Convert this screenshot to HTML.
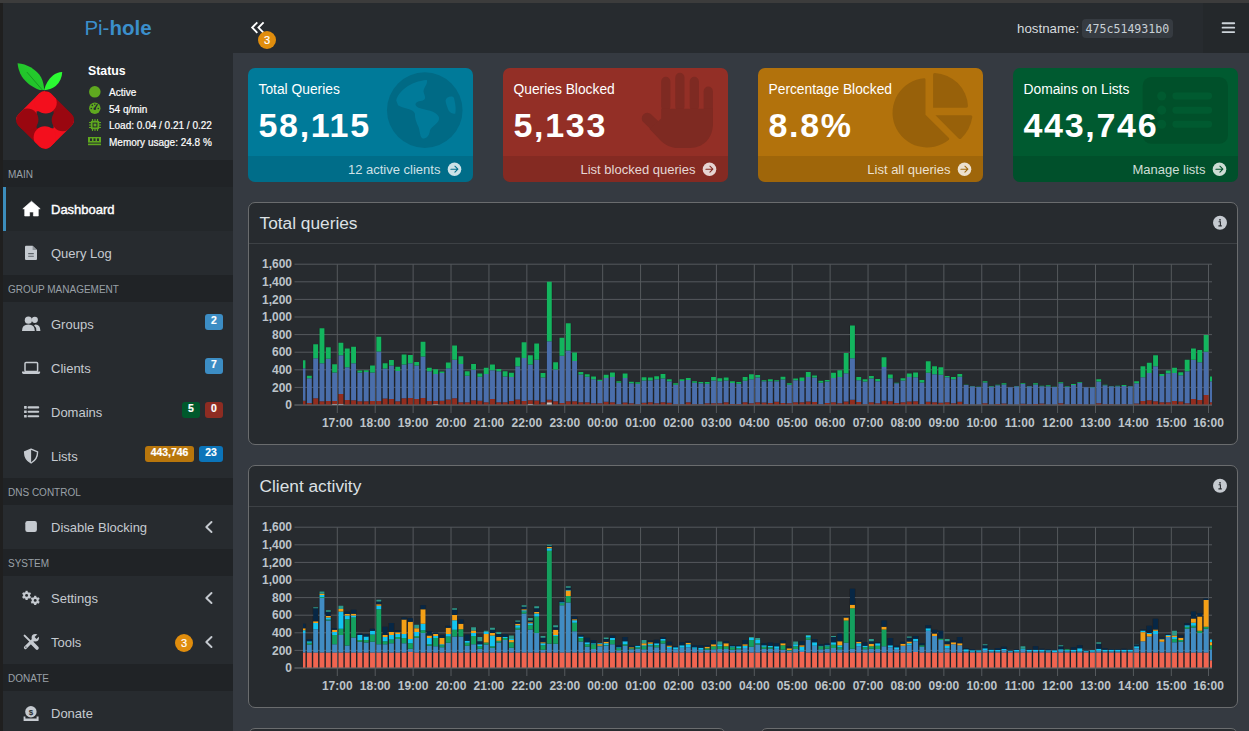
<!DOCTYPE html>
<html><head><meta charset="utf-8"><title>Pi-hole - Dashboard</title>
<style>
*{box-sizing:border-box;margin:0;padding:0}
html,body{width:1249px;height:731px;overflow:hidden}
body{background:#1f1f1f;font-family:"Liberation Sans",Arial,sans-serif;color:#c9ced3;position:relative}
.abs{position:absolute}
svg{overflow:visible}
#topbar{left:0;top:0;width:1249px;height:3px;background:#3c3c3c}
#sidebar{left:3px;top:3px;width:230px;height:728px;background:#272b2f}
#navbar{left:233px;top:3px;width:1016px;height:50px;background:#272b2f}
#navright{left:1203px;top:3px;width:46px;height:50px;background:#24282b}
#content{left:233px;top:53px;width:1016px;height:678px;background:#353a41}
.logo{left:3px;top:3px;width:230px;height:50px;text-align:center;font-size:20.5px;line-height:50px;color:#3b8fcc}
.logo b{font-weight:700}
.st{position:absolute;left:109px;font-size:10px;line-height:12px;color:#fff;white-space:nowrap;-webkit-text-stroke:0.2px #fff}
.mhead{position:absolute;left:3px;width:230px;height:27px;background:#202326;color:#9aa1a8;font-size:10px;line-height:27px;padding-left:5px;padding-top:1px}
.mitem{position:absolute;left:3px;width:230px;height:44px;color:#c5cad0;font-size:13px;line-height:44px;padding-left:48px;padding-top:1px}
.mitem.active{background:#23272a;color:#fff;-webkit-text-stroke:0.4px #fff;border-left:3px solid #3c8dbc;padding-left:45px}
.badge{position:absolute;height:16px;border-radius:3px;color:#fff;font-weight:700;font-size:10.4px;line-height:14.4px;text-align:center;-webkit-text-stroke:0.2px #fff}
.ico{position:absolute;overflow:visible}
.sbox{position:absolute;top:68px;width:225px;height:114px;border-radius:7px;overflow:hidden;color:#fff}
.sbox .t{position:absolute;left:10.5px;top:14.2px;font-size:13.8px;line-height:16px;white-space:nowrap}
.sbox .n{position:absolute;left:10.5px;top:39px;font-size:34px;line-height:36px;font-weight:700;letter-spacing:1.7px;white-space:nowrap}
.sbox .ft{position:absolute;left:0;bottom:0;width:225px;height:26px;background:rgba(0,0,0,0.1)}
.sbox .ft span{position:absolute;right:32.6px;top:6px;font-size:13px;line-height:16px;color:rgba(255,255,255,0.82);white-space:nowrap}
.sbox svg.bi{position:absolute}
.cbox{position:absolute;left:248px;width:990px;height:243px;border:1px solid #6a6c6e;border-radius:7px;background:#272b2f}
.cbox .hd{position:absolute;left:0;top:0;width:988px;height:41px;border-bottom:1px solid #3d4145}
.cbox .ht{position:absolute;left:10.5px;top:10.2px;font-size:17.3px;line-height:20px;color:#dde1e4;white-space:nowrap}
.tick text{font-family:"Liberation Sans",Arial,sans-serif;font-size:12px;font-weight:700;fill:#bcc3c9}
</style></head>
<body>
<div id="topbar" class="abs"></div>
<div id="sidebar" class="abs"></div>
<div id="navbar" class="abs"></div>
<div id="navright" class="abs"></div>
<div id="content" class="abs"></div>

<!-- ===== SIDEBAR ===== -->
<div class="abs logo">Pi-<b>hole</b></div>

<svg class="ico" style="left:10px;top:58px" width="70" height="95" viewBox="0 0 539 731" >
<defs>
<linearGradient id="lf1" x1="0" y1="1" x2="1" y2="0"><stop offset="0" stop-color="#1fbd28"/><stop offset="1" stop-color="#27d02f"/></linearGradient>
<linearGradient id="lf2" x1="0" y1="1" x2="1" y2="0"><stop offset="0" stop-color="#29f431"/><stop offset="1" stop-color="#2cfe33"/></linearGradient>
<clipPath id="dia"><rect x="-176" y="-176" width="352" height="352" rx="62" transform="translate(270,477) rotate(45)"/></clipPath>
</defs>
<path d="M58,41 C130,45 205,90 240,150 C255,180 262,215 264,247 L229,246 C170,226 120,186 90,140 C72,110 62,80 58,41 Z" fill="url(#lf1)"/>
<path d="M130,108 L250,247" stroke="#13801b" stroke-width="5" fill="none"/>
<path d="M402,108 C400,150 385,185 352,216 C325,238 295,246 263,248 C275,200 295,165 330,135 C352,118 375,110 402,108 Z" fill="url(#lf2)"/>
<g clip-path="url(#dia)">
<rect x="0" y="200" width="270.5" height="276" fill="#f30f1d"/>
<rect x="270.5" y="200" width="270" height="276" fill="#9a0710"/>
<rect x="270.5" y="476" width="270" height="260" fill="#f30f1d"/>
<rect x="0" y="476" width="270.5" height="260" fill="#9a0710"/>
<rect x="205" y="410" width="131" height="131" fill="#272b2f"/>
<circle cx="275" cy="342" r="85" fill="#f30f1d"/>
<circle cx="407" cy="478" r="86" fill="#9a0710"/>
<circle cx="268" cy="612" r="86" fill="#f30f1d"/>
<circle cx="133" cy="474" r="86" fill="#9a0710"/>
</g></svg>

<div class="abs" style="left:88px;top:64px;font-size:12.3px;line-height:14px;font-weight:700;color:#fff">Status</div>
<div class="st" style="top:87.4px">Active</div>
<div class="st" style="top:103.8px">54 q/min</div>
<div class="st" style="top:120.2px">Load:&nbsp;0.04&nbsp;/&nbsp;0.21&nbsp;/&nbsp;0.22</div>
<div class="st" style="top:136.6px">Memory usage:&nbsp;24.8&nbsp;%</div>
<svg class="ico" style="left:0;top:0" width="1" height="1"><circle cx="94.8" cy="91.8" r="5.8" fill="#5fa81f"/><circle cx="94.8" cy="108.2" r="5.7" fill="#5fa81f"/><path d="M94.8 108.6 L97.2 104.6" stroke="#272b2f" stroke-width="1.3" stroke-linecap="round"/><circle cx="94.8" cy="108.8" r="1.3" fill="#272b2f"/><circle cx="91.3" cy="108.5" r="0.8" fill="#272b2f"/><circle cx="92.3" cy="105.4" r="0.8" fill="#272b2f"/><circle cx="94.8" cy="104.2" r="0.7" fill="#272b2f"/><circle cx="98.3" cy="108.5" r="0.8" fill="#272b2f"/><rect x="90.8" y="120.8" width="8.4" height="8.4" rx="1" fill="#5fa81f"/><rect x="92.6" y="122.6" width="4.8" height="4.8" fill="#272b2f"/><rect x="93.6" y="123.6" width="2.8" height="2.8" fill="#5fa81f"/><path d="M92.5 119v2M95 119v2M97.5 119v2M92.5 129v2M95 129v2M97.5 129v2M89 122.5h2M89 125h2M89 127.5h2M99 122.5h2M99 125h2M99 127.5h2" stroke="#5fa81f" stroke-width="1.1"/><rect x="88" y="137" width="13" height="5.6" fill="#5fa81f"/><rect x="90" y="138.4" width="2" height="2.6" fill="#272b2f"/><rect x="93.5" y="138.4" width="2" height="2.6" fill="#272b2f"/><rect x="97" y="138.4" width="2" height="2.6" fill="#272b2f"/><rect x="88" y="143.6" width="13" height="1.6" fill="#5fa81f"/></svg>

<div class="mhead" style="top:160px">MAIN</div>
<div class="mitem active" style="top:187px">Dashboard</div>
<div class="mitem" style="top:231px">Query Log</div>
<div class="mhead" style="top:275px">GROUP MANAGEMENT</div>
<div class="mitem" style="top:302px">Groups</div>
<div class="mitem" style="top:346px">Clients</div>
<div class="mitem" style="top:390px">Domains</div>
<div class="mitem" style="top:434px">Lists</div>
<div class="mhead" style="top:478px">DNS CONTROL</div>
<div class="mitem" style="top:505px">Disable Blocking</div>
<div class="mhead" style="top:549px">SYSTEM</div>
<div class="mitem" style="top:576px">Settings</div>
<div class="mitem" style="top:620px">Tools</div>
<div class="mhead" style="top:664px">DONATE</div>
<div class="mitem" style="top:691px">Donate</div>

<div class="badge" style="left:205px;top:314px;width:18px;background:#3c8dc4">2</div>
<div class="badge" style="left:205px;top:358px;width:18px;background:#3c8dc4">7</div>
<div class="badge" style="left:182px;top:402px;width:18px;background:#00592c">5</div>
<div class="badge" style="left:205px;top:402px;width:18px;background:#8e2c22">0</div>
<div class="badge" style="left:145px;top:446px;width:49px;background:#b8760c">443,746</div>
<div class="badge" style="left:199px;top:446px;width:24px;background:#0b74b9">23</div>
<div class="badge" style="left:175px;top:634px;width:18px;height:18px;border-radius:9px;line-height:18px;font-weight:400;font-size:11px;background:#e08d0d">3</div>
<svg class="ico" style="left:0;top:0" width="1" height="1"><path d="M31.5 201.2 L40.2 208.8 L38.3 209 L38.3 216 L33.4 216 L33.4 212 L29.6 212 L29.6 216 L24.7 216 L24.7 209 L22.8 208.8 Z" fill="#fff" stroke="#fff" stroke-width="0.6" stroke-linejoin="round"/><path d="M26 245.7 H32.6 L37 250.1 V258.9 Q37 260 35.9 260 H26.1 Q25 260 25 258.9 V246.8 Q25 245.7 26 245.7 Z" fill="#c5cad0"/><path d="M32.6 245.7 V250.1 H37" fill="#8d9399"/><path d="M28.2 253.6 H33.8 M28.2 256.2 H33.8" stroke="#5d6369" stroke-width="1.1"/><circle cx="28.4" cy="320.2" r="3.6" fill="#c5cad0"/><circle cx="34.8" cy="319.8" r="3.1" fill="#c5cad0"/><path d="M22 331 Q22 324.6 28.4 324.6 Q34.8 324.6 34.8 331 Z" fill="#c5cad0"/><path d="M35.6 324.4 Q40.4 324.6 40.4 331 H36.4 Q36.4 327 34 325.2 Z" fill="#c5cad0"/><rect x="25" y="362.4" width="12.6" height="9" rx="1" fill="none" stroke="#c5cad0" stroke-width="1.5"/><path d="M22 371.4 H40.1 V372.6 Q40.1 374 38.7 374 H23.4 Q22 374 22 372.6 Z" fill="#c5cad0"/><path d="M24.1 406.1h2.6v2.6h-2.6zM24.1 410.5h2.6v2.6h-2.6zM24.1 414.9h2.6v2.6h-2.6z" fill="#c5cad0"/><path d="M28.6 407.4H38.2M28.6 411.8H38.2M28.6 416.2H38.2" stroke="#c5cad0" stroke-width="2.1" stroke-linecap="round"/><path d="M31.1 449.2 L37.6 451.8 Q37.6 459.6 31.1 463 Q24.6 459.6 24.6 451.8 Z" fill="none" stroke="#c5cad0" stroke-width="1.4" stroke-linejoin="round"/><path d="M31.1 449.2 L24.6 451.8 Q24.6 459.6 31.1 463 Z" fill="#c5cad0"/><rect x="25.3" y="521" width="11.6" height="11" rx="2.2" fill="#c5cad0"/><g transform="translate(26.6,595.4)"><rect x="-1.1" y="-4.6" width="2.2" height="9.2" fill="#c5cad0" transform="rotate(0)"/><rect x="-1.1" y="-4.6" width="2.2" height="9.2" fill="#c5cad0" transform="rotate(60)"/><rect x="-1.1" y="-4.6" width="2.2" height="9.2" fill="#c5cad0" transform="rotate(120)"/><circle r="3.4" fill="#c5cad0"/><circle r="1.428" fill="#272b2f"/></g><g transform="translate(35.2,600.4)"><rect x="-1.1" y="-4.6" width="2.2" height="9.2" fill="#c5cad0" transform="rotate(0)"/><rect x="-1.1" y="-4.6" width="2.2" height="9.2" fill="#c5cad0" transform="rotate(60)"/><rect x="-1.1" y="-4.6" width="2.2" height="9.2" fill="#c5cad0" transform="rotate(120)"/><circle r="3.4" fill="#c5cad0"/><circle r="1.428" fill="#272b2f"/></g><path d="M24.6 635.6 L30.4 641.4" stroke="#c5cad0" stroke-width="2" stroke-linecap="round"/><path d="M31.6 642.6 L37 648" stroke="#c5cad0" stroke-width="3.6" stroke-linecap="round"/><path d="M25.4 647.6 L33 640" stroke="#c5cad0" stroke-width="3" stroke-linecap="round"/><circle cx="35.3" cy="637.7" r="3.7" fill="#c5cad0"/><path d="M34.6 637.1 L37.7 634 L39.6 635.9 L36.5 639 Z" fill="#272b2f"/><circle cx="25.9" cy="647.1" r="0.7" fill="#272b2f"/><circle cx="30.9" cy="711.8" r="5.7" fill="#c5cad0"/><text x="30.9" y="714.6" text-anchor="middle" font-family="Liberation Sans,Arial,sans-serif" font-size="8" font-weight="700" fill="#272b2f">$</text><path d="M23.6 716.4 H25.4 V718.6 H36.6 V716.4 H38.6 V720.9 H23.6 Z" fill="#c5cad0"/><path d="M211.5 522 L206.3 527 L211.5 532" stroke="#c5cad0" stroke-width="1.9" fill="none" stroke-linecap="round" stroke-linejoin="round"/><path d="M211.5 593 L206.3 598 L211.5 603" stroke="#c5cad0" stroke-width="1.9" fill="none" stroke-linecap="round" stroke-linejoin="round"/><path d="M211.5 637 L206.3 642 L211.5 647" stroke="#c5cad0" stroke-width="1.9" fill="none" stroke-linecap="round" stroke-linejoin="round"/></svg>

<!-- ===== NAVBAR ===== -->
<svg class="ico" style="left:0;top:0" width="1" height="1"><path d="M257.3 22.4 L252.2 27.6 L257.3 32.8 M263.6 22.4 L258.5 27.6 L263.6 32.8" stroke="#fff" stroke-width="1.9" fill="none" stroke-linecap="butt" stroke-linejoin="miter"/><path d="M1222.6 23.2H1234.2M1222.6 27.65H1234.2M1222.6 32.1H1234.2" stroke="#cdd4da" stroke-width="1.9" stroke-linecap="round"/></svg>
<div class="badge" style="left:258px;top:31px;width:18px;height:18px;border-radius:9px;line-height:18px;font-weight:400;font-size:11px;background:#e08d0d">3</div>
<div class="abs" style="left:1017px;top:21px;font-size:13.3px;line-height:16px;color:#d6dade;white-space:nowrap">hostname:</div>
<div class="abs" style="left:1082px;top:19px;width:91px;height:19px;border-radius:4px;background:#363b41"></div>
<div class="abs" style="left:1085.5px;top:21.5px;font-family:'DejaVu Sans Mono',monospace;font-size:11.6px;line-height:15px;color:#c8d0d6;white-space:nowrap">475c514931b0</div>

<!-- ===== INFO BOXES ===== -->
<div class="sbox" style="left:248px;background:#007a99">
  <svg class="bi" style="left:132px;top:0px" width="93" height="88" viewBox="0 0 773 731"><circle cx="372" cy="350" r="314" fill="#006a85"/><path d="M135,270 C150,200 250,110 390,100 C400,140 350,170 365,210 C375,240 390,265 340,275 C290,280 280,310 320,330 C370,350 470,350 490,410 C500,460 430,480 415,520 C410,560 390,590 355,585 C330,575 335,530 320,490 C300,450 290,420 290,380 C280,340 200,340 150,310 Z" fill="#007a99"/><path d="M545,270 C550,240 600,225 615,250 C625,290 635,350 625,380 C600,380 575,370 565,340 C555,310 545,290 545,270 Z" fill="#007a99"/></svg>
  <div class="t">Total Queries</div>
  <div class="n">58,115</div>
  <div class="ft"><span>12 active clients</span></div>
</div>
<div class="sbox" style="left:503px;background:#932f26">
  <svg class="bi" style="left:132px;top:0px" width="93" height="88" viewBox="0 0 773 731"><g stroke="#7e2a22" stroke-linecap="round" fill="none"><path d="M256 112V320M373 78V320M493 112V320" stroke-width="77"/><path d="M609 193V470" stroke-width="77"/><path d="M102 418L238 548" stroke-width="92"/></g><path d="M218,338 L647,338 L647,470 C647,590 560,665 460,665 L360,665 C300,665 250,640 210,600 L120,505 L218,420 Z" fill="#7e2a22"/></svg>
  <div class="t">Queries Blocked</div>
  <div class="n">5,133</div>
  <div class="ft"><span>List blocked queries</span></div>
</div>
<div class="sbox" style="left:758px;background:#b2720c">
  <svg class="bi" style="left:132px;top:0px" width="93" height="88" viewBox="0 0 773 731"><g fill="#98610a"><path d="M295,388 L295,95 Q295,85 285,85 A288,288 0 1 0 490,596 Q496,588 488,580 Z"/><path d="M358,330 L358,55 Q358,40 372,41 A290,290 0 0 1 648,316 Q648,330 634,330 Z"/><path d="M378,392 L670,392 Q686,392 684,408 A307,307 0 0 1 592,585 Q580,596 568,584 Z"/></g></svg>
  <div class="t">Percentage Blocked</div>
  <div class="n">8.8%</div>
  <div class="ft"><span>List all queries</span></div>
</div>
<div class="sbox" style="left:1013px;background:#005a30">
  <svg class="bi" style="left:127px;top:0px" width="98" height="88" viewBox="0 0 814 731"><rect x="22" y="75" width="708" height="555" rx="72" fill="#00502a"/><g fill="#005a30"><circle cx="180" cy="233" r="38"/><circle cx="180" cy="350" r="38"/><circle cx="180" cy="467" r="38"/></g><path d="M298 233H570M298 350H570M298 467H570" stroke="#005a30" stroke-width="58" stroke-linecap="round"/></svg>
  <div class="t">Domains on Lists</div>
  <div class="n">443,746</div>
  <div class="ft"><span>Manage lists</span></div>
</div>
<svg class="ico" style="left:0;top:0" width="1" height="1"><circle cx="454.5" cy="169.2" r="6.8" fill="rgba(255,255,255,0.8)"/><path d="M450.9 169.2H457.7M454.9 166.2L457.9 169.2L454.9 172.2" stroke="#006e8a" stroke-width="1.05" fill="none" stroke-linecap="round" stroke-linejoin="round"/><circle cx="709.5" cy="169.2" r="6.8" fill="rgba(255,255,255,0.8)"/><path d="M705.9 169.2H712.7M709.9 166.2L712.9 169.2L709.9 172.2" stroke="#842a22" stroke-width="1.05" fill="none" stroke-linecap="round" stroke-linejoin="round"/><circle cx="964.5" cy="169.2" r="6.8" fill="rgba(255,255,255,0.8)"/><path d="M960.9 169.2H967.7M964.9 166.2L967.9 169.2L964.9 172.2" stroke="#a0670b" stroke-width="1.05" fill="none" stroke-linecap="round" stroke-linejoin="round"/><circle cx="1219.5" cy="169.2" r="6.8" fill="rgba(255,255,255,0.8)"/><path d="M1215.9 169.2H1222.7M1219.9 166.2L1222.9 169.2L1219.9 172.2" stroke="#00512b" stroke-width="1.05" fill="none" stroke-linecap="round" stroke-linejoin="round"/></svg>

<!-- ===== CHART BOXES ===== -->
<div class="cbox" style="top:202px"><div class="hd"><div class="ht">Total queries</div></div></div>
<div class="cbox" style="top:465px"><div class="hd"><div class="ht">Client activity</div></div></div>
<div class="cbox" style="top:728px;left:248px;width:478px"></div>
<div class="cbox" style="top:728px;left:760px;width:478px"></div>
<svg class="ico" style="left:0;top:0" width="1" height="1"><circle cx="1220" cy="222.8" r="7" fill="#c5cad0"/><circle cx="1220" cy="219.8" r="0.9" fill="#272b2f"/><path d="M1218.6 221.8H1220.4V225.8M1218.4 225.9H1221.8" stroke="#272b2f" stroke-width="1.1" fill="none"/><circle cx="1220" cy="485.8" r="7" fill="#c5cad0"/><circle cx="1220" cy="482.8" r="0.9" fill="#272b2f"/><path d="M1218.6 484.8H1220.4V488.8M1218.4 488.90000000000003H1221.8" stroke="#272b2f" stroke-width="1.1" fill="none"/></svg>

<svg class="abs" style="left:250px;top:252px" width="975" height="180" viewBox="250 252 975 180">
<path fill="#1f2226" d="M303 360.28H306.18V405H303ZM306.2 375.67H312.5V405H306.2ZM312.51 344.28H318.81V405H312.51ZM318.83 328.28H325.13V405H318.83ZM325.14 347.36H331.44V405H325.14ZM331.46 364.18H337.76V405H331.46ZM337.77 342.64H344.07V405H337.77ZM344.09 348.38H350.39V405H344.09ZM350.4 346.74H356.7V405H350.4ZM356.72 370.54H363.02V405H356.72ZM363.03 370.33H369.33V405H363.03ZM369.35 365.41H375.65V405H369.35ZM375.67 336.69H381.96V405H375.67ZM381.98 363.15H388.28V405H381.98ZM388.3 360.08H394.59V405H388.3ZM394.61 366.85H400.91V405H394.61ZM400.93 354.54H407.22V405H400.93ZM407.24 354.95H413.54V405H407.24ZM413.56 361.92H419.85V405H413.56ZM419.87 341.82H426.17V405H419.87ZM426.19 367.87H432.48V405H426.19ZM432.5 369.31H438.8V405H432.5ZM438.81 371.56H445.11V405H438.81ZM445.13 362.54H451.43V405H445.13ZM451.44 345.51H457.74V405H451.44ZM457.76 356.18H464.06V405H457.76ZM464.07 371.15H470.37V405H464.07ZM470.39 363.97H476.69V405H470.39ZM476.7 373.62H483V405H476.7ZM483.02 367.87H489.32V405H483.02ZM489.33 364.38H495.63V405H489.33ZM495.65 368.9H501.95V405H495.65ZM501.96 371.36H508.26V405H501.96ZM508.28 372.79H514.58V405H508.28ZM514.59 357.62H520.89V405H514.59ZM520.91 342.23H527.21V405H520.91ZM527.22 355.15H533.52V405H527.22ZM533.54 343.46H539.84V405H533.54ZM539.85 373H546.15V405H539.85ZM546.17 281.72H552.47V405H546.17ZM552.48 362.13H558.78V405H552.48ZM558.8 337.72H565.1V405H558.8ZM565.12 323.36H571.42V405H565.12ZM571.43 352.49H577.73V405H571.43ZM577.74 371.97H584.04V405H577.74ZM584.06 374.23H590.36V405H584.06ZM590.38 376.49H596.68V405H590.38ZM596.69 379.77H602.99V405H596.69ZM603 374.64H609.3V405H603ZM609.32 372.59H615.62V405H609.32ZM615.63 381.21H621.94V405H615.63ZM621.95 373.41H628.25V405H621.95ZM628.26 381.82H634.56V405H628.26ZM634.58 382.23H640.88V405H634.58ZM640.89 377.31H647.2V405H640.89ZM647.21 377.51H653.51V405H647.21ZM653.52 376.28H659.83V405H653.52ZM659.84 374.03H666.14V405H659.84ZM666.15 379.15H672.46V405H666.15ZM672.47 383.26H678.77V405H672.47ZM678.78 379.36H685.09V405H678.78ZM685.1 377.92H691.4V405H685.1ZM691.41 381.21H697.72V405H691.41ZM697.73 382.03H704.03V405H697.73ZM704.04 382.03H710.35V405H704.04ZM710.36 376.9H716.66V405H710.36ZM716.67 378.33H722.98V405H716.67ZM722.99 377.51H729.29V405H722.99ZM729.3 381.21H735.61V405H729.3ZM735.62 382.03H741.92V405H735.62ZM741.93 377.1H748.24V405H741.93ZM748.25 374.23H754.55V405H748.25ZM754.56 375.05H760.87V405H754.56ZM760.88 380.18H767.18V405H760.88ZM767.19 379.15H773.5V405H767.19ZM773.51 380.18H779.81V405H773.51ZM779.83 376.69H786.13V405H779.83ZM786.14 383.26H792.44V405H786.14ZM792.45 378.54H798.75V405H792.45ZM798.77 377.51H805.07V405H798.77ZM805.09 371.97H811.39V405H805.09ZM811.4 375.46H817.7V405H811.4ZM817.71 380.79H824.01V405H817.71ZM824.03 379.97H830.33V405H824.03ZM830.34 372.79H836.64V405H830.34ZM836.66 370.33H842.96V405H836.66ZM842.97 352.9H849.27V405H842.97ZM849.29 325.41H855.59V405H849.29ZM855.61 377.1H861.91V405H855.61ZM861.92 379.15H868.22V405H861.92ZM868.24 376.08H874.54V405H868.24ZM874.55 378.95H880.85V405H874.55ZM880.87 357.21H887.17V405H880.87ZM887.18 374.44H893.48V405H887.18ZM893.5 382.85H899.8V405H893.5ZM899.81 378.13H906.11V405H899.81ZM906.12 373.41H912.43V405H906.12ZM912.44 372.38H918.74V405H912.44ZM918.75 379.97H925.06V405H918.75ZM925.07 361.31H931.37V405H925.07ZM931.38 366.23H937.69V405H931.38ZM937.7 367.26H944V405H937.7ZM944.01 376.08H950.32V405H944.01ZM950.33 376.9H956.63V405H950.33ZM956.64 374.03H962.95V405H956.64ZM962.96 384.69H969.26V405H962.96ZM969.27 385.92H975.58V405H969.27ZM975.59 386.74H981.89V405H975.59ZM981.9 381.21H988.21V405H981.9ZM988.22 385.92H994.52V405H988.22ZM994.53 384.69H1000.84V405H994.53ZM1000.85 383.26H1007.15V405H1000.85ZM1007.16 387.15H1013.47V405H1007.16ZM1013.48 385.92H1019.78V405H1013.48ZM1019.79 383.26H1026.1V405H1019.79ZM1026.11 385.92H1032.41V405H1026.11ZM1032.42 383.26H1038.73V405H1032.42ZM1038.74 385.72H1045.04V405H1038.74ZM1045.06 385.31H1051.36V405H1045.06ZM1051.37 386.74H1057.67V405H1051.37ZM1057.68 382.23H1063.99V405H1057.68ZM1064 386.33H1070.3V405H1064ZM1070.31 384.08H1076.62V405H1070.31ZM1076.63 382.03H1082.93V405H1076.63ZM1082.94 387.15H1089.25V405H1082.94ZM1089.26 386.95H1095.56V405H1089.26ZM1095.58 379.15H1101.88V405H1095.58ZM1101.89 384.69H1108.19V405H1101.89ZM1108.2 385.92H1114.51V405H1108.2ZM1114.52 385.72H1120.82V405H1114.52ZM1120.84 385.1H1127.14V405H1120.84ZM1127.15 385.92H1133.45V405H1127.15ZM1133.46 381.21H1139.77V405H1133.46ZM1139.78 366.23H1146.08V405H1139.78ZM1146.1 362.74H1152.4V405H1146.1ZM1152.41 355.15H1158.71V405H1152.41ZM1158.73 374.03H1165.03V405H1158.73ZM1165.04 370.54H1171.34V405H1165.04ZM1171.36 367.87H1177.66V405H1171.36ZM1177.67 372.18H1183.97V405H1177.67ZM1183.98 359.67H1190.29V405H1183.98ZM1190.3 348.38H1196.6V405H1190.3ZM1196.62 350.03H1202.92V405H1196.62ZM1202.93 335.05H1209.23V405H1202.93ZM1209.25 376.49H1212V405H1209.25Z"/>
<path d="M294.5 405H1212 M294.5 387.4H1212 M294.5 369.8H1212 M294.5 352.2H1212 M294.5 334.6H1212 M294.5 317H1212 M294.5 299.4H1212 M294.5 281.8H1212 M294.5 264.2H1212 M337.3 264.2V413 M375.21 264.2V413 M413.12 264.2V413 M451.03 264.2V413 M488.94 264.2V413 M526.85 264.2V413 M564.76 264.2V413 M602.67 264.2V413 M640.58 264.2V413 M678.49 264.2V413 M716.4 264.2V413 M754.31 264.2V413 M792.22 264.2V413 M830.13 264.2V413 M868.04 264.2V413 M905.95 264.2V413 M943.86 264.2V413 M981.77 264.2V413 M1019.68 264.2V413 M1057.59 264.2V413 M1095.5 264.2V413 M1133.41 264.2V413 M1171.32 264.2V413 M1208.5 264.2V413" stroke="#55595d" stroke-width="1" fill="none"/>
<path fill="#922d1f" d="M303 400.69H305.48V405H303ZM306.9 402.95H311.8V405H306.9ZM313.21 398.23H318.11V405H313.21ZM319.53 401.31H324.43V405H319.53ZM325.84 401.1H330.74V405H325.84ZM332.16 401.1H337.06V405H332.16ZM338.47 393.92H343.37V405H338.47ZM344.79 400.08H349.69V405H344.79ZM351.1 400.28H356V405H351.1ZM357.42 401.31H362.32V405H357.42ZM363.73 401.31H368.63V405H363.73ZM370.05 401.1H374.95V405H370.05ZM376.37 400.9H381.26V405H376.37ZM382.68 398.44H387.58V405H382.68ZM389 399.05H393.89V405H389ZM395.31 401.31H400.21V405H395.31ZM401.62 398.23H406.52V405H401.62ZM407.94 398.03H412.84V405H407.94ZM414.25 399.05H419.15V405H414.25ZM420.57 398.03H425.47V405H420.57ZM426.88 401.1H431.78V405H426.88ZM433.2 400.9H438.1V405H433.2ZM439.51 400.69H444.41V405H439.51ZM445.83 399.46H450.73V405H445.83ZM452.14 398.23H457.04V405H452.14ZM458.46 402.13H463.36V405H458.46ZM464.77 402.13H469.67V405H464.77ZM471.09 400.28H475.99V405H471.09ZM477.4 400.69H482.3V405H477.4ZM483.72 402.13H488.62V405H483.72ZM490.03 399.05H494.93V405H490.03ZM496.35 402.33H501.25V405H496.35ZM502.66 402.13H507.56V405H502.66ZM508.98 401.1H513.88V405H508.98ZM515.29 399.46H520.19V405H515.29ZM521.61 401.1H526.51V405H521.61ZM527.92 400.28H532.82V405H527.92ZM534.24 400.49H539.14V405H534.24ZM540.55 402.13H545.45V405H540.55ZM546.87 399.67H551.77V405H546.87ZM553.18 401.31H558.08V405H553.18ZM559.5 402.95H564.4V405H559.5ZM565.82 401.31H570.72V405H565.82ZM572.13 401.31H577.03V405H572.13ZM578.44 402.13H583.34V405H578.44ZM584.76 402.13H589.66V405H584.76ZM591.08 403.36H595.98V405H591.08ZM597.39 403.15H602.29V405H597.39ZM603.7 401.72H608.6V405H603.7ZM610.02 402.13H614.92V405H610.02ZM616.34 404.18H621.24V405H616.34ZM622.65 402.54H627.55V405H622.65ZM628.96 403.36H633.86V405H628.96ZM635.28 404.18H640.18V405H635.28ZM641.6 402.74H646.5V405H641.6ZM647.91 402.13H652.81V405H647.91ZM654.23 403.15H659.12V405H654.23ZM660.54 402.33H665.44V405H660.54ZM666.86 402.74H671.75V405H666.86ZM673.17 404.18H678.07V405H673.17ZM679.49 404.18H684.38V405H679.49ZM685.8 402.13H690.7V405H685.8ZM692.12 404.18H697.01V405H692.12ZM698.43 404.18H703.33V405H698.43ZM704.75 403.15H709.64V405H704.75ZM711.06 403.15H715.96V405H711.06ZM717.38 403.36H722.27V405H717.38ZM723.69 402.33H728.59V405H723.69ZM730 403.97H734.9V405H730ZM736.32 403.97H741.22V405H736.32ZM742.63 402.33H747.53V405H742.63ZM748.95 403.15H753.85V405H748.95ZM755.26 402.33H760.16V405H755.26ZM761.58 402.54H766.48V405H761.58ZM767.89 402.95H772.79V405H767.89ZM774.21 401.72H779.11V405H774.21ZM780.53 402.95H785.43V405H780.53ZM786.84 403.15H791.74V405H786.84ZM793.15 402.13H798.05V405H793.15ZM799.47 402.33H804.37V405H799.47ZM805.79 401.51H810.69V405H805.79ZM812.1 401.92H817V405H812.1ZM818.41 404.18H823.31V405H818.41ZM824.73 402.95H829.63V405H824.73ZM831.04 402.13H835.94V405H831.04ZM837.36 403.15H842.26V405H837.36ZM843.67 401.51H848.57V405H843.67ZM849.99 399.67H854.89V405H849.99ZM856.31 401.92H861.21V405H856.31ZM862.62 404.18H867.52V405H862.62ZM868.94 402.13H873.84V405H868.94ZM875.25 403.36H880.15V405H875.25ZM881.57 400.69H886.47V405H881.57ZM887.88 401.31H892.78V405H887.88ZM894.2 402.95H899.1V405H894.2ZM900.51 402.13H905.41V405H900.51ZM906.83 401.51H911.73V405H906.83ZM913.14 401.31H918.04V405H913.14ZM919.46 404.18H924.36V405H919.46ZM925.77 401.72H930.67V405H925.77ZM932.09 402.33H936.99V405H932.09ZM938.4 402.74H943.3V405H938.4ZM944.72 402.13H949.62V405H944.72ZM951.03 403.15H955.93V405H951.03ZM957.35 401.72H962.25V405H957.35ZM963.66 404.18H968.56V405H963.66ZM969.98 404.38H974.88V405H969.98ZM976.29 404.38H981.19V405H976.29ZM982.61 403.15H987.5V405H982.61ZM988.92 404.59H993.82V405H988.92ZM995.24 403.97H1000.13V405H995.24ZM1001.55 403.56H1006.45V405H1001.55ZM1007.87 404.38H1012.76V405H1007.87ZM1014.18 404.38H1019.08V405H1014.18ZM1020.5 403.77H1025.39V405H1020.5ZM1026.81 404.18H1031.71V405H1026.81ZM1033.12 403.97H1038.03V405H1033.12ZM1039.44 403.56H1044.34V405H1039.44ZM1045.76 404.38H1050.66V405H1045.76ZM1052.07 404.38H1056.97V405H1052.07ZM1058.38 403.15H1063.29V405H1058.38ZM1064.7 404.38H1069.6V405H1064.7ZM1071.01 404.18H1075.91V405H1071.01ZM1077.33 404.18H1082.23V405H1077.33ZM1083.64 404.59H1088.55V405H1083.64ZM1089.96 404.59H1094.86V405H1089.96ZM1096.28 403.15H1101.18V405H1096.28ZM1102.59 404.18H1107.49V405H1102.59ZM1108.9 404.18H1113.81V405H1108.9ZM1115.22 404.38H1120.12V405H1115.22ZM1121.54 404.18H1126.44V405H1121.54ZM1127.85 404.38H1132.75V405H1127.85ZM1134.16 403.56H1139.07V405H1134.16ZM1140.48 400.9H1145.38V405H1140.48ZM1146.8 400.28H1151.7V405H1146.8ZM1153.11 401.31H1158.01V405H1153.11ZM1159.43 402.33H1164.33V405H1159.43ZM1165.74 402.33H1170.64V405H1165.74ZM1172.06 401.1H1176.96V405H1172.06ZM1178.37 401.51H1183.27V405H1178.37ZM1184.68 403.36H1189.59V405H1184.68ZM1191 399.05H1195.9V405H1191ZM1197.32 400.08H1202.22V405H1197.32ZM1203.63 394.95H1208.53V405H1203.63ZM1209.95 402.13H1212V405H1209.95Z"/><path fill="#4a6eab" d="M303 368.28H305.48V400.69H303ZM306.9 378.33H311.8V402.95H306.9ZM313.21 358.23H318.11V398.23H313.21ZM319.53 363.36H324.43V401.31H319.53ZM325.84 358.64H330.74V401.1H325.84ZM332.16 372.38H337.06V401.1H332.16ZM338.47 355.15H343.37V393.92H338.47ZM344.79 367.26H349.69V400.08H344.79ZM351.1 363.15H356V400.28H351.1ZM357.42 372.59H362.32V401.31H357.42ZM363.73 371.97H368.63V401.31H363.73ZM370.05 372.38H374.95V401.1H370.05ZM376.37 351.46H381.26V400.9H376.37ZM382.68 368.49H387.58V398.44H382.68ZM389 365.41H393.89V399.05H389ZM395.31 370.95H400.21V401.31H395.31ZM401.62 364.59H406.52V398.23H401.62ZM407.94 363.36H412.84V398.03H407.94ZM414.25 365.41H419.15V399.05H414.25ZM420.57 356.59H425.47V398.03H420.57ZM426.88 371.36H431.78V401.1H426.88ZM433.2 374.03H438.1V400.9H433.2ZM439.51 373H444.41V400.69H439.51ZM445.83 368.28H450.73V399.46H445.83ZM452.14 359.87H457.04V398.23H452.14ZM458.46 363.97H463.36V402.13H458.46ZM464.77 375.67H469.67V402.13H464.77ZM471.09 369.72H475.99V400.28H471.09ZM477.4 376.69H482.3V400.69H477.4ZM483.72 374.03H488.62V402.13H483.72ZM490.03 370.13H494.93V399.05H490.03ZM496.35 371.15H501.25V402.33H496.35ZM502.66 376.49H507.56V402.13H502.66ZM508.98 377.1H513.88V401.1H508.98ZM515.29 366.23H520.19V399.46H515.29ZM521.61 358.03H526.51V401.1H521.61ZM527.92 364.59H532.82V400.28H527.92ZM534.24 359.87H539.14V400.49H534.24ZM540.55 377.51H545.45V402.13H540.55ZM546.87 341.21H551.77V399.67H546.87ZM553.18 369.51H558.08V401.31H553.18ZM559.5 355.77H564.4V402.95H559.5ZM565.82 350.44H570.72V401.31H565.82ZM572.13 361.1H577.03V401.31H572.13ZM578.44 374.44H583.34V402.13H578.44ZM584.76 376.69H589.66V402.13H584.76ZM591.08 379.36H595.98V403.36H591.08ZM597.39 381H602.29V403.15H597.39ZM603.7 377.92H608.6V401.72H603.7ZM610.02 377.1H614.92V402.13H610.02ZM616.34 382.64H621.24V404.18H616.34ZM622.65 377.92H627.55V402.54H622.65ZM628.96 383.26H633.86V403.36H628.96ZM635.28 383.87H640.18V404.18H635.28ZM641.6 380.38H646.5V402.74H641.6ZM647.91 380.59H652.81V402.13H647.91ZM654.23 379.36H659.12V403.15H654.23ZM660.54 378.54H665.44V402.33H660.54ZM666.86 381.21H671.75V402.74H666.86ZM673.17 384.69H678.07V404.18H673.17ZM679.49 381H684.38V404.18H679.49ZM685.8 379.97H690.7V402.13H685.8ZM692.12 382.85H697.01V404.18H692.12ZM698.43 383.26H703.33V404.18H698.43ZM704.75 383.67H709.64V403.15H704.75ZM711.06 380.38H715.96V403.15H711.06ZM717.38 381.21H722.27V403.36H717.38ZM723.69 380.59H728.59V402.33H723.69ZM730 383.05H734.9V403.97H730ZM736.32 383.67H741.22V403.97H736.32ZM742.63 380.79H747.53V402.33H742.63ZM748.95 379.15H753.85V403.15H748.95ZM755.26 377.51H760.16V402.33H755.26ZM761.58 381.21H766.48V402.54H761.58ZM767.89 381.21H772.79V402.95H767.89ZM774.21 381.21H779.11V401.72H774.21ZM780.53 379.56H785.43V402.95H780.53ZM786.84 384.69H791.74V403.15H786.84ZM793.15 380.18H798.05V402.13H793.15ZM799.47 381H804.37V402.33H799.47ZM805.79 377.1H810.69V401.51H805.79ZM812.1 377.51H817V401.92H812.1ZM818.41 382.85H823.31V404.18H818.41ZM824.73 381.41H829.63V402.95H824.73ZM831.04 377.92H835.94V402.13H831.04ZM837.36 377.1H842.26V403.15H837.36ZM843.67 373.21H848.57V401.51H843.67ZM849.99 358.23H854.89V399.67H849.99ZM856.31 380.18H861.21V401.92H856.31ZM862.62 381.41H867.52V404.18H862.62ZM868.94 378.54H873.84V402.13H868.94ZM875.25 381.21H880.15V403.36H875.25ZM881.57 367.05H886.47V400.69H881.57ZM887.88 378.33H892.78V401.31H887.88ZM894.2 383.26H899.1V402.95H894.2ZM900.51 380.38H905.41V402.13H900.51ZM906.83 377.1H911.73V401.51H906.83ZM913.14 377.31H918.04V401.31H913.14ZM919.46 382.44H924.36V404.18H919.46ZM925.77 372.79H930.67V401.72H925.77ZM932.09 374.23H936.99V402.33H932.09ZM938.4 374.85H943.3V402.74H938.4ZM944.72 377.31H949.62V402.13H944.72ZM951.03 379.15H955.93V403.15H951.03ZM957.35 376.69H962.25V401.72H957.35ZM963.66 385.1H968.56V404.18H963.66ZM969.98 386.13H974.88V404.38H969.98ZM976.29 386.95H981.19V404.38H976.29ZM982.61 382.44H987.5V403.15H982.61ZM988.92 386.54H993.82V404.59H988.92ZM995.24 385.31H1000.13V403.97H995.24ZM1001.55 384.49H1006.45V403.56H1001.55ZM1007.87 387.36H1012.76V404.38H1007.87ZM1014.18 386.33H1019.08V404.38H1014.18ZM1020.5 384.08H1025.39V403.77H1020.5ZM1026.81 386.13H1031.71V404.18H1026.81ZM1033.12 384.49H1038.03V403.97H1033.12ZM1039.44 386.13H1044.34V403.56H1039.44ZM1045.76 386.13H1050.66V404.38H1045.76ZM1052.07 386.95H1056.97V404.38H1052.07ZM1058.38 383.26H1063.29V403.15H1058.38ZM1064.7 386.74H1069.6V404.38H1064.7ZM1071.01 384.9H1075.91V404.18H1071.01ZM1077.33 382.85H1082.23V404.18H1077.33ZM1083.64 387.36H1088.55V404.59H1083.64ZM1089.96 387.15H1094.86V404.59H1089.96ZM1096.28 381.41H1101.18V403.15H1096.28ZM1102.59 385.31H1107.49V404.18H1102.59ZM1108.9 386.33H1113.81V404.18H1108.9ZM1115.22 386.13H1120.12V404.38H1115.22ZM1121.54 385.92H1126.44V404.18H1121.54ZM1127.85 386.33H1132.75V404.38H1127.85ZM1134.16 383.26H1139.07V403.56H1134.16ZM1140.48 377.31H1145.38V400.9H1140.48ZM1146.8 373H1151.7V400.28H1146.8ZM1153.11 366.23H1158.01V401.31H1153.11ZM1159.43 376.08H1164.33V402.33H1159.43ZM1165.74 373.21H1170.64V402.33H1165.74ZM1172.06 373H1176.96V401.1H1172.06ZM1178.37 375.26H1183.27V401.51H1178.37ZM1184.68 371.15H1189.59V403.36H1184.68ZM1191 359.67H1195.9V399.05H1191ZM1197.32 362.33H1202.22V400.08H1197.32ZM1203.63 351.87H1208.53V394.95H1203.63ZM1209.95 381.21H1212V402.13H1209.95Z"/><path fill="#13b55e" d="M303 360.28H305.48V368.28H303ZM306.9 375.67H311.8V378.33H306.9ZM313.21 344.28H318.11V358.23H313.21ZM319.53 328.28H324.43V363.36H319.53ZM325.84 347.36H330.74V358.64H325.84ZM332.16 364.18H337.06V372.38H332.16ZM338.47 342.64H343.37V355.15H338.47ZM344.79 348.38H349.69V367.26H344.79ZM351.1 346.74H356V363.15H351.1ZM357.42 370.54H362.32V372.59H357.42ZM363.73 370.33H368.63V371.97H363.73ZM370.05 365.41H374.95V372.38H370.05ZM376.37 336.69H381.26V351.46H376.37ZM382.68 363.15H387.58V368.49H382.68ZM389 360.08H393.89V365.41H389ZM395.31 366.85H400.21V370.95H395.31ZM401.62 354.54H406.52V364.59H401.62ZM407.94 354.95H412.84V363.36H407.94ZM414.25 361.92H419.15V365.41H414.25ZM420.57 341.82H425.47V356.59H420.57ZM426.88 367.87H431.78V371.36H426.88ZM433.2 369.31H438.1V374.03H433.2ZM439.51 371.56H444.41V373H439.51ZM445.83 362.54H450.73V368.28H445.83ZM452.14 345.51H457.04V359.87H452.14ZM458.46 356.18H463.36V363.97H458.46ZM464.77 371.15H469.67V375.67H464.77ZM471.09 363.97H475.99V369.72H471.09ZM477.4 373.62H482.3V376.69H477.4ZM483.72 367.87H488.62V374.03H483.72ZM490.03 364.38H494.93V370.13H490.03ZM496.35 368.9H501.25V371.15H496.35ZM502.66 371.36H507.56V376.49H502.66ZM508.98 372.79H513.88V377.1H508.98ZM515.29 357.62H520.19V366.23H515.29ZM521.61 342.23H526.51V358.03H521.61ZM527.92 355.15H532.82V364.59H527.92ZM534.24 343.46H539.14V359.87H534.24ZM540.55 373H545.45V377.51H540.55ZM546.87 281.72H551.77V341.21H546.87ZM553.18 362.13H558.08V369.51H553.18ZM559.5 337.72H564.4V355.77H559.5ZM565.82 323.36H570.72V350.44H565.82ZM572.13 352.49H577.03V361.1H572.13ZM578.44 371.97H583.34V374.44H578.44ZM584.76 374.23H589.66V376.69H584.76ZM591.08 376.49H595.98V379.36H591.08ZM597.39 379.77H602.29V381H597.39ZM603.7 374.64H608.6V377.92H603.7ZM610.02 372.59H614.92V377.1H610.02ZM616.34 381.21H621.24V382.64H616.34ZM622.65 373.41H627.55V377.92H622.65ZM628.96 381.82H633.86V383.26H628.96ZM635.28 382.23H640.18V383.87H635.28ZM641.6 377.31H646.5V380.38H641.6ZM647.91 377.51H652.81V380.59H647.91ZM654.23 376.28H659.12V379.36H654.23ZM660.54 374.03H665.44V378.54H660.54ZM666.86 379.15H671.75V381.21H666.86ZM673.17 383.26H678.07V384.69H673.17ZM679.49 379.36H684.38V381H679.49ZM685.8 377.92H690.7V379.97H685.8ZM692.12 381.21H697.01V382.85H692.12ZM698.43 382.03H703.33V383.26H698.43ZM704.75 382.03H709.64V383.67H704.75ZM711.06 376.9H715.96V380.38H711.06ZM717.38 378.33H722.27V381.21H717.38ZM723.69 377.51H728.59V380.59H723.69ZM730 381.21H734.9V383.05H730ZM736.32 382.03H741.22V383.67H736.32ZM742.63 377.1H747.53V380.79H742.63ZM748.95 374.23H753.85V379.15H748.95ZM755.26 375.05H760.16V377.51H755.26ZM761.58 380.18H766.48V381.21H761.58ZM767.89 379.15H772.79V381.21H767.89ZM774.21 380.18H779.11V381.21H774.21ZM780.53 376.69H785.43V379.56H780.53ZM786.84 383.26H791.74V384.69H786.84ZM793.15 378.54H798.05V380.18H793.15ZM799.47 377.51H804.37V381H799.47ZM805.79 371.97H810.69V377.1H805.79ZM812.1 375.46H817V377.51H812.1ZM818.41 380.79H823.31V382.85H818.41ZM824.73 379.97H829.63V381.41H824.73ZM831.04 372.79H835.94V377.92H831.04ZM837.36 370.33H842.26V377.1H837.36ZM843.67 352.9H848.57V373.21H843.67ZM849.99 325.41H854.89V358.23H849.99ZM856.31 377.1H861.21V380.18H856.31ZM862.62 379.15H867.52V381.41H862.62ZM868.94 376.08H873.84V378.54H868.94ZM875.25 378.95H880.15V381.21H875.25ZM881.57 357.21H886.47V367.05H881.57ZM887.88 374.44H892.78V378.33H887.88ZM894.2 382.85H899.1V383.26H894.2ZM900.51 378.13H905.41V380.38H900.51ZM906.83 373.41H911.73V377.1H906.83ZM913.14 372.38H918.04V377.31H913.14ZM919.46 379.97H924.36V382.44H919.46ZM925.77 361.31H930.67V372.79H925.77ZM932.09 366.23H936.99V374.23H932.09ZM938.4 367.26H943.3V374.85H938.4ZM944.72 376.08H949.62V377.31H944.72ZM951.03 376.9H955.93V379.15H951.03ZM957.35 374.03H962.25V376.69H957.35ZM963.66 384.69H968.56V385.1H963.66ZM969.98 385.92H974.88V386.13H969.98ZM976.29 386.74H981.19V386.95H976.29ZM982.61 381.21H987.5V382.44H982.61ZM988.92 385.92H993.82V386.54H988.92ZM995.24 384.69H1000.13V385.31H995.24ZM1001.55 383.26H1006.45V384.49H1001.55ZM1007.87 387.15H1012.76V387.36H1007.87ZM1014.18 385.92H1019.08V386.33H1014.18ZM1020.5 383.26H1025.39V384.08H1020.5ZM1026.81 385.92H1031.71V386.13H1026.81ZM1033.12 383.26H1038.03V384.49H1033.12ZM1039.44 385.72H1044.34V386.13H1039.44ZM1045.76 385.31H1050.66V386.13H1045.76ZM1052.07 386.74H1056.97V386.95H1052.07ZM1058.38 382.23H1063.29V383.26H1058.38ZM1064.7 386.33H1069.6V386.74H1064.7ZM1071.01 384.08H1075.91V384.9H1071.01ZM1077.33 382.03H1082.23V382.85H1077.33ZM1083.64 387.15H1088.55V387.36H1083.64ZM1089.96 386.95H1094.86V387.15H1089.96ZM1096.28 379.15H1101.18V381.41H1096.28ZM1102.59 384.69H1107.49V385.31H1102.59ZM1108.9 385.92H1113.81V386.33H1108.9ZM1115.22 385.72H1120.12V386.13H1115.22ZM1121.54 385.1H1126.44V385.92H1121.54ZM1127.85 385.92H1132.75V386.33H1127.85ZM1134.16 381.21H1139.07V383.26H1134.16ZM1140.48 366.23H1145.38V377.31H1140.48ZM1146.8 362.74H1151.7V373H1146.8ZM1153.11 355.15H1158.01V366.23H1153.11ZM1159.43 374.03H1164.33V376.08H1159.43ZM1165.74 370.54H1170.64V373.21H1165.74ZM1172.06 367.87H1176.96V373H1172.06ZM1178.37 372.18H1183.27V375.26H1178.37ZM1184.68 359.67H1189.59V371.15H1184.68ZM1191 348.38H1195.9V359.67H1191ZM1197.32 350.03H1202.22V362.33H1197.32ZM1203.63 335.05H1208.53V351.87H1203.63ZM1209.95 376.49H1212V381.21H1209.95Z"/><path fill="#c4c4c4" d="M332.16 404H337.06V405H332.16ZM338.47 404H343.37V405H338.47ZM433.2 404.2H438.1V405H433.2ZM527.92 404H532.82V405H527.92ZM546.87 402.6H551.77V405H546.87Z"/>
<path d="M294.5 405H1212" stroke="#5b5f63" stroke-width="1"/>
<g class="tick"><text x="292" y="409.2" text-anchor="end">0</text><text x="292" y="391.6" text-anchor="end">200</text><text x="292" y="374" text-anchor="end">400</text><text x="292" y="356.4" text-anchor="end">600</text><text x="292" y="338.8" text-anchor="end">800</text><text x="292" y="321.2" text-anchor="end">1,000</text><text x="292" y="303.6" text-anchor="end">1,200</text><text x="292" y="286" text-anchor="end">1,400</text><text x="292" y="268.4" text-anchor="end">1,600</text><text x="337.3" y="426.5" text-anchor="middle">17:00</text><text x="375.21" y="426.5" text-anchor="middle">18:00</text><text x="413.12" y="426.5" text-anchor="middle">19:00</text><text x="451.03" y="426.5" text-anchor="middle">20:00</text><text x="488.94" y="426.5" text-anchor="middle">21:00</text><text x="526.85" y="426.5" text-anchor="middle">22:00</text><text x="564.76" y="426.5" text-anchor="middle">23:00</text><text x="602.67" y="426.5" text-anchor="middle">00:00</text><text x="640.58" y="426.5" text-anchor="middle">01:00</text><text x="678.49" y="426.5" text-anchor="middle">02:00</text><text x="716.4" y="426.5" text-anchor="middle">03:00</text><text x="754.31" y="426.5" text-anchor="middle">04:00</text><text x="792.22" y="426.5" text-anchor="middle">05:00</text><text x="830.13" y="426.5" text-anchor="middle">06:00</text><text x="868.04" y="426.5" text-anchor="middle">07:00</text><text x="905.95" y="426.5" text-anchor="middle">08:00</text><text x="943.86" y="426.5" text-anchor="middle">09:00</text><text x="981.77" y="426.5" text-anchor="middle">10:00</text><text x="1019.68" y="426.5" text-anchor="middle">11:00</text><text x="1057.59" y="426.5" text-anchor="middle">12:00</text><text x="1095.5" y="426.5" text-anchor="middle">13:00</text><text x="1133.41" y="426.5" text-anchor="middle">14:00</text><text x="1171.32" y="426.5" text-anchor="middle">15:00</text><text x="1208.5" y="426.5" text-anchor="middle">16:00</text></g>
</svg>
<svg class="abs" style="left:250px;top:515px" width="975" height="180" viewBox="250 515 975 180">
<path fill="#1f2226" d="M303 623.69H306.18V668H303ZM306.2 639.08H312.5V668H306.2ZM312.51 607.28H318.81V668H312.51ZM318.83 591.49H325.13V668H318.83ZM325.14 610.36H331.44V668H325.14ZM331.46 628.21H337.76V668H331.46ZM337.77 605.85H344.07V668H337.77ZM344.09 611.79H350.39V668H344.09ZM350.4 609.74H356.7V668H350.4ZM356.72 633.54H363.02V668H356.72ZM363.03 633.95H369.33V668H363.03ZM369.35 628.82H375.65V668H369.35ZM375.67 599.69H381.96V668H375.67ZM381.98 626.77H388.28V668H381.98ZM388.3 623.08H394.59V668H388.3ZM394.61 630.26H400.91V668H394.61ZM400.93 617.54H407.22V668H400.93ZM407.24 618.15H413.54V668H407.24ZM413.56 624.72H419.85V668H413.56ZM419.87 605.23H426.17V668H419.87ZM426.19 631.28H432.48V668H426.19ZM432.5 632.51H438.8V668H432.5ZM438.81 635.18H445.11V668H438.81ZM445.13 625.74H451.43V668H445.13ZM451.44 608.31H457.74V668H451.44ZM457.76 619.59H464.06V668H457.76ZM464.07 634.56H470.37V668H464.07ZM470.39 627.18H476.69V668H470.39ZM476.7 637.03H483V668H476.7ZM483.02 630.87H489.32V668H483.02ZM489.33 627.79H495.63V668H489.33ZM495.65 631.9H501.95V668H495.65ZM501.96 633.95H508.26V668H501.96ZM508.28 635.59H514.58V668H508.28ZM514.59 620.62H520.89V668H514.59ZM520.91 605.23H527.21V668H520.91ZM527.22 617.95H533.52V668H527.22ZM533.54 606.26H539.84V668H533.54ZM539.85 636H546.15V668H539.85ZM546.17 544.72H552.47V668H546.17ZM552.48 625.13H558.78V668H552.48ZM558.8 600.72H565.1V668H558.8ZM565.12 586.36H571.42V668H565.12ZM571.43 616.51H577.73V668H571.43ZM577.74 634.97H584.04V668H577.74ZM584.06 637.64H590.36V668H584.06ZM590.38 640.1H596.68V668H590.38ZM596.69 643.18H602.99V668H596.69ZM603 637.44H609.3V668H603ZM609.32 635.59H615.62V668H609.32ZM615.63 645.23H621.94V668H615.63ZM621.95 637.03H628.25V668H621.95ZM628.26 645.64H634.56V668H628.26ZM634.58 645.23H640.88V668H634.58ZM640.89 640.1H647.2V668H640.89ZM647.21 640.51H653.51V668H647.21ZM653.52 639.69H659.83V668H653.52ZM659.84 637.03H666.14V668H659.84ZM666.15 641.74H672.46V668H666.15ZM672.47 646.26H678.77V668H672.47ZM678.78 642.15H685.09V668H678.78ZM685.1 641.13H691.4V668H685.1ZM691.41 645.23H697.72V668H691.41ZM697.73 645.23H704.03V668H697.73ZM704.04 645.23H710.35V668H704.04ZM710.36 640.1H716.66V668H710.36ZM716.67 641.54H722.98V668H716.67ZM722.99 641.13H729.29V668H722.99ZM729.3 645.23H735.61V668H729.3ZM735.62 645.23H741.92V668H735.62ZM741.93 640.1H748.24V668H741.93ZM748.25 637.03H754.55V668H748.25ZM754.56 638.05H760.87V668H754.56ZM760.88 643.18H767.18V668H760.88ZM767.19 642.56H773.5V668H767.19ZM773.51 643.18H779.81V668H773.51ZM779.83 640.51H786.13V668H779.83ZM786.14 646.26H792.44V668H786.14ZM792.45 641.54H798.75V668H792.45ZM798.77 641.13H805.07V668H798.77ZM805.09 634.97H811.39V668H805.09ZM811.4 639.08H817.7V668H811.4ZM817.71 644.21H824.01V668H817.71ZM824.03 643.59H830.33V668H824.03ZM830.34 636H836.64V668H830.34ZM836.66 633.54H842.96V668H836.66ZM842.97 615.9H849.27V668H842.97ZM849.29 588.82H855.59V668H849.29ZM855.61 640.1H861.91V668H855.61ZM861.92 642.15H868.22V668H861.92ZM868.24 639.08H874.54V668H868.24ZM874.55 642.15H880.85V668H874.55ZM880.87 620.62H887.17V668H880.87ZM887.18 638.05H893.48V668H887.18ZM893.5 645.85H899.8V668H893.5ZM899.81 641.74H906.11V668H899.81ZM906.12 636.41H912.43V668H906.12ZM912.44 636H918.74V668H912.44ZM918.75 643.18H925.06V668H918.75ZM925.07 625.13H931.37V668H925.07ZM931.38 629.85H937.69V668H931.38ZM937.7 630.87H944V668H937.7ZM944.01 639.08H950.32V668H944.01ZM950.33 640.51H956.63V668H950.33ZM956.64 637.03H962.95V668H956.64ZM962.96 648.31H969.26V668H962.96ZM969.27 649.33H975.58V668H969.27ZM975.59 649.95H981.89V668H975.59ZM981.9 644.21H988.21V668H981.9ZM988.22 649.33H994.52V668H988.22ZM994.53 647.9H1000.84V668H994.53ZM1000.85 646.87H1007.15V668H1000.85ZM1007.16 650.36H1013.47V668H1007.16ZM1013.48 649.33H1019.78V668H1013.48ZM1019.79 646.26H1026.1V668H1019.79ZM1026.11 648.92H1032.41V668H1026.11ZM1032.42 646.26H1038.73V668H1032.42ZM1038.74 648.72H1045.04V668H1038.74ZM1045.06 649.33H1051.36V668H1045.06ZM1051.37 649.74H1057.67V668H1051.37ZM1057.68 645.23H1063.99V668H1057.68ZM1064 649.33H1070.3V668H1064ZM1070.31 647.28H1076.62V668H1070.31ZM1076.63 645.23H1082.93V668H1076.63ZM1082.94 650.36H1089.25V668H1082.94ZM1089.26 650.36H1095.56V668H1089.26ZM1095.58 642.15H1101.88V668H1095.58ZM1101.89 648.31H1108.19V668H1101.89ZM1108.2 648.92H1114.51V668H1108.2ZM1114.52 648.92H1120.82V668H1114.52ZM1120.84 648.72H1127.14V668H1120.84ZM1127.15 649.33H1133.45V668H1127.15ZM1133.46 644.21H1139.77V668H1133.46ZM1139.78 629.44H1146.08V668H1139.78ZM1146.1 625.74H1152.4V668H1146.1ZM1152.41 618.77H1158.71V668H1152.41ZM1158.73 637.64H1165.03V668H1158.73ZM1165.04 633.95H1171.34V668H1165.04ZM1171.36 630.87H1177.66V668H1171.36ZM1177.67 635.38H1183.97V668H1177.67ZM1183.98 623.28H1190.29V668H1183.98ZM1190.3 611.38H1196.6V668H1190.3ZM1196.62 613.03H1202.92V668H1196.62ZM1202.93 598.46H1209.23V668H1202.93ZM1209.25 639.49H1212V668H1209.25Z"/>
<path d="M294.5 668H1212 M294.5 650.4H1212 M294.5 632.8H1212 M294.5 615.2H1212 M294.5 597.6H1212 M294.5 580H1212 M294.5 562.4H1212 M294.5 544.8H1212 M294.5 527.2H1212 M337.3 527.2V676 M375.21 527.2V676 M413.12 527.2V676 M451.03 527.2V676 M488.94 527.2V676 M526.85 527.2V676 M564.76 527.2V676 M602.67 527.2V676 M640.58 527.2V676 M678.49 527.2V676 M716.4 527.2V676 M754.31 527.2V676 M792.22 527.2V676 M830.13 527.2V676 M868.04 527.2V676 M905.95 527.2V676 M943.86 527.2V676 M981.77 527.2V676 M1019.68 527.2V676 M1057.59 527.2V676 M1095.5 527.2V676 M1133.41 527.2V676 M1171.32 527.2V676 M1208.5 527.2V676" stroke="#55595d" stroke-width="1" fill="none"/>
<path fill="#f06450" d="M303 652.41H305.48V668H303ZM306.9 652.41H311.8V668H306.9ZM313.21 652.41H318.11V668H313.21ZM319.53 652.41H324.43V668H319.53ZM325.84 652.41H330.74V668H325.84ZM332.16 652.41H337.06V668H332.16ZM338.47 652.41H343.37V668H338.47ZM344.79 652.41H349.69V668H344.79ZM351.1 652.41H356V668H351.1ZM357.42 652.41H362.32V668H357.42ZM363.73 652.41H368.63V668H363.73ZM370.05 652.41H374.95V668H370.05ZM376.37 652.41H381.26V668H376.37ZM382.68 652.41H387.58V668H382.68ZM389 652.41H393.89V668H389ZM395.31 652.41H400.21V668H395.31ZM401.62 652.41H406.52V668H401.62ZM407.94 652H412.84V668H407.94ZM414.25 652.41H419.15V668H414.25ZM420.57 652.41H425.47V668H420.57ZM426.88 652.41H431.78V668H426.88ZM433.2 652.41H438.1V668H433.2ZM439.51 652.41H444.41V668H439.51ZM445.83 652.41H450.73V668H445.83ZM452.14 652.41H457.04V668H452.14ZM458.46 652.41H463.36V668H458.46ZM464.77 652.41H469.67V668H464.77ZM471.09 652.41H475.99V668H471.09ZM477.4 652.41H482.3V668H477.4ZM483.72 652.41H488.62V668H483.72ZM490.03 652.41H494.93V668H490.03ZM496.35 652.41H501.25V668H496.35ZM502.66 652.41H507.56V668H502.66ZM508.98 652.41H513.88V668H508.98ZM515.29 652.41H520.19V668H515.29ZM521.61 652.41H526.51V668H521.61ZM527.92 652.41H532.82V668H527.92ZM534.24 652.41H539.14V668H534.24ZM540.55 652.41H545.45V668H540.55ZM546.87 652.41H551.77V668H546.87ZM553.18 652.41H558.08V668H553.18ZM559.5 652.41H564.4V668H559.5ZM565.82 652.41H570.72V668H565.82ZM572.13 652.41H577.03V668H572.13ZM578.44 652.41H583.34V668H578.44ZM584.76 652.41H589.66V668H584.76ZM591.08 652.41H595.98V668H591.08ZM597.39 652.41H602.29V668H597.39ZM603.7 652.41H608.6V668H603.7ZM610.02 652.41H614.92V668H610.02ZM616.34 652.41H621.24V668H616.34ZM622.65 652.41H627.55V668H622.65ZM628.96 652.41H633.86V668H628.96ZM635.28 652.41H640.18V668H635.28ZM641.6 652.41H646.5V668H641.6ZM647.91 652.41H652.81V668H647.91ZM654.23 652.41H659.12V668H654.23ZM660.54 652.41H665.44V668H660.54ZM666.86 652.41H671.75V668H666.86ZM673.17 652.41H678.07V668H673.17ZM679.49 652.41H684.38V668H679.49ZM685.8 652.41H690.7V668H685.8ZM692.12 652.41H697.01V668H692.12ZM698.43 652.41H703.33V668H698.43ZM704.75 652.41H709.64V668H704.75ZM711.06 652.41H715.96V668H711.06ZM717.38 652.41H722.27V668H717.38ZM723.69 652.41H728.59V668H723.69ZM730 652.41H734.9V668H730ZM736.32 652.41H741.22V668H736.32ZM742.63 652.41H747.53V668H742.63ZM748.95 652.41H753.85V668H748.95ZM755.26 652.41H760.16V668H755.26ZM761.58 652.41H766.48V668H761.58ZM767.89 652.41H772.79V668H767.89ZM774.21 652.41H779.11V668H774.21ZM780.53 652.41H785.43V668H780.53ZM786.84 652.41H791.74V668H786.84ZM793.15 652.41H798.05V668H793.15ZM799.47 652H804.37V668H799.47ZM805.79 652.41H810.69V668H805.79ZM812.1 652.41H817V668H812.1ZM818.41 652.41H823.31V668H818.41ZM824.73 652.41H829.63V668H824.73ZM831.04 652.41H835.94V668H831.04ZM837.36 652.41H842.26V668H837.36ZM843.67 652.41H848.57V668H843.67ZM849.99 652.41H854.89V668H849.99ZM856.31 652.41H861.21V668H856.31ZM862.62 652.41H867.52V668H862.62ZM868.94 652.41H873.84V668H868.94ZM875.25 652.41H880.15V668H875.25ZM881.57 652.41H886.47V668H881.57ZM887.88 652.41H892.78V668H887.88ZM894.2 652.41H899.1V668H894.2ZM900.51 652.41H905.41V668H900.51ZM906.83 652.41H911.73V668H906.83ZM913.14 652H918.04V668H913.14ZM919.46 652.41H924.36V668H919.46ZM925.77 652.41H930.67V668H925.77ZM932.09 652.41H936.99V668H932.09ZM938.4 652.41H943.3V668H938.4ZM944.72 652.41H949.62V668H944.72ZM951.03 652.41H955.93V668H951.03ZM957.35 652.41H962.25V668H957.35ZM963.66 652.41H968.56V668H963.66ZM969.98 652.41H974.88V668H969.98ZM976.29 652.41H981.19V668H976.29ZM982.61 652.41H987.5V668H982.61ZM988.92 652.41H993.82V668H988.92ZM995.24 652.41H1000.13V668H995.24ZM1001.55 652.41H1006.45V668H1001.55ZM1007.87 652.41H1012.76V668H1007.87ZM1014.18 652.41H1019.08V668H1014.18ZM1020.5 652.41H1025.39V668H1020.5ZM1026.81 652.41H1031.71V668H1026.81ZM1033.12 652.41H1038.03V668H1033.12ZM1039.44 652.41H1044.34V668H1039.44ZM1045.76 652.41H1050.66V668H1045.76ZM1052.07 652.41H1056.97V668H1052.07ZM1058.38 652.41H1063.29V668H1058.38ZM1064.7 652.41H1069.6V668H1064.7ZM1071.01 652.41H1075.91V668H1071.01ZM1077.33 652.41H1082.23V668H1077.33ZM1083.64 652.41H1088.55V668H1083.64ZM1089.96 652.41H1094.86V668H1089.96ZM1096.28 652.41H1101.18V668H1096.28ZM1102.59 652.41H1107.49V668H1102.59ZM1108.9 652.41H1113.81V668H1108.9ZM1115.22 652.41H1120.12V668H1115.22ZM1121.54 652.41H1126.44V668H1121.54ZM1127.85 652.41H1132.75V668H1127.85ZM1134.16 652.41H1139.07V668H1134.16ZM1140.48 652.41H1145.38V668H1140.48ZM1146.8 652.41H1151.7V668H1146.8ZM1153.11 652.41H1158.01V668H1153.11ZM1159.43 652.41H1164.33V668H1159.43ZM1165.74 652.41H1170.64V668H1165.74ZM1172.06 652.41H1176.96V668H1172.06ZM1178.37 652.41H1183.27V668H1178.37ZM1184.68 652.41H1189.59V668H1184.68ZM1191 652.41H1195.9V668H1191ZM1197.32 652.41H1202.22V668H1197.32ZM1203.63 652.41H1208.53V668H1203.63ZM1209.95 660.21H1212V668H1209.95Z"/><path fill="#418cc3" d="M303 632.92H305.48V652.41H303ZM306.9 644.62H311.8V652.41H306.9ZM313.21 629.23H318.11V652.41H313.21ZM319.53 598.05H324.43V652.41H319.53ZM325.84 620.62H330.74V652.41H325.84ZM332.16 644.21H337.06V652.41H332.16ZM338.47 634.97H343.37V652.41H338.47ZM344.79 645.44H349.69V652.41H344.79ZM351.1 637.44H356V652.41H351.1ZM357.42 641.74H362.32V652.41H357.42ZM363.73 642.56H368.63V652.41H363.73ZM370.05 641.74H374.95V652.41H370.05ZM376.37 644.21H381.26V652.41H376.37ZM382.68 644.21H387.58V652.41H382.68ZM389 643.18H393.89V652.41H389ZM395.31 639.08H400.21V652.41H395.31ZM401.62 643.18H406.52V652.41H401.62ZM407.94 648.72H412.84V652H407.94ZM414.25 637.64H419.15V652.41H414.25ZM420.57 632.92H425.47V652.41H420.57ZM426.88 645.85H431.78V652.41H426.88ZM433.2 646.26H438.1V652.41H433.2ZM439.51 647.28H444.41V652.41H439.51ZM445.83 642.77H450.73V652.41H445.83ZM452.14 636.62H457.04V652.41H452.14ZM458.46 636.62H463.36V652.41H458.46ZM464.77 645.85H469.67V652.41H464.77ZM471.09 644.21H475.99V652.41H471.09ZM477.4 648.72H482.3V652.41H477.4ZM483.72 644.62H488.62V652.41H483.72ZM490.03 647.69H494.93V652.41H490.03ZM496.35 642.56H501.25V652.41H496.35ZM502.66 640.1H507.56V652.41H502.66ZM508.98 647.69H513.88V652.41H508.98ZM515.29 629.44H520.19V652.41H515.29ZM521.61 613.44H526.51V652.41H521.61ZM527.92 629.44H532.82V652.41H527.92ZM534.24 632.92H539.14V652.41H534.24ZM540.55 649.74H545.45V652.41H540.55ZM546.87 643.79H551.77V652.41H546.87ZM553.18 643.79H558.08V652.41H553.18ZM559.5 605.23H564.4V652.41H559.5ZM565.82 602.56H570.72V652.41H565.82ZM572.13 631.28H577.03V652.41H572.13ZM578.44 641.54H583.34V652.41H578.44ZM584.76 646.87H589.66V652.41H584.76ZM591.08 648.92H595.98V652.41H591.08ZM597.39 646.26H602.29V652.41H597.39ZM603.7 645.85H608.6V652.41H603.7ZM610.02 644.21H614.92V652.41H610.02ZM616.34 650.36H621.24V652.41H616.34ZM622.65 645.64H627.55V652.41H622.65ZM628.96 649.33H633.86V652.41H628.96ZM635.28 648.72H640.18V652.41H635.28ZM641.6 649.33H646.5V652.41H641.6ZM647.91 646.26H652.81V652.41H647.91ZM654.23 647.28H659.12V652.41H654.23ZM660.54 643.59H665.44V652.41H660.54ZM666.86 648.72H671.75V652.41H666.86ZM673.17 649.33H678.07V652.41H673.17ZM679.49 647.69H684.38V652.41H679.49ZM685.8 647.28H690.7V652.41H685.8ZM692.12 648.72H697.01V652.41H692.12ZM698.43 649.74H703.33V652.41H698.43ZM704.75 649.74H709.64V652.41H704.75ZM711.06 649.33H715.96V652.41H711.06ZM717.38 648.92H722.27V652.41H717.38ZM723.69 648.92H728.59V652.41H723.69ZM730 649.74H734.9V652.41H730ZM736.32 649.33H741.22V652.41H736.32ZM742.63 647.9H747.53V652.41H742.63ZM748.95 646.87H753.85V652.41H748.95ZM755.26 644.62H760.16V652.41H755.26ZM761.58 648.72H766.48V652.41H761.58ZM767.89 648.72H772.79V652.41H767.89ZM774.21 648.72H779.11V652.41H774.21ZM780.53 649.74H785.43V652.41H780.53ZM786.84 650.77H791.74V652.41H786.84ZM793.15 648.92H798.05V652.41H793.15ZM799.47 650.77H804.37V652H799.47ZM805.79 639.69H810.69V652.41H805.79ZM812.1 645.64H817V652.41H812.1ZM818.41 649.33H823.31V652.41H818.41ZM824.73 648.72H829.63V652.41H824.73ZM831.04 647.9H835.94V652.41H831.04ZM837.36 649.33H842.26V652.41H837.36ZM843.67 642.77H848.57V652.41H843.67ZM849.99 648.72H854.89V652.41H849.99ZM856.31 646.26H861.21V652.41H856.31ZM862.62 649.33H867.52V652.41H862.62ZM868.94 648.72H873.84V652.41H868.94ZM875.25 648.92H880.15V652.41H875.25ZM881.57 646.26H886.47V652.41H881.57ZM887.88 647.28H892.78V652.41H887.88ZM894.2 648.92H899.1V652.41H894.2ZM900.51 645.64H905.41V652.41H900.51ZM906.83 645.23H911.73V652.41H906.83ZM913.14 641.13H918.04V652H913.14ZM919.46 646.87H924.36V652.41H919.46ZM925.77 630.87H930.67V652.41H925.77ZM932.09 636H936.99V652.41H932.09ZM938.4 640.1H943.3V652.41H938.4ZM944.72 648.31H949.62V652.41H944.72ZM951.03 644.21H955.93V652.41H951.03ZM957.35 645.23H962.25V652.41H957.35ZM963.66 651.38H968.56V652.41H963.66ZM969.98 651.79H974.88V652.41H969.98ZM976.29 651.79H981.19V652.41H976.29ZM982.61 649.95H987.5V652.41H982.61ZM988.92 651.38H993.82V652.41H988.92ZM995.24 651.38H1000.13V652.41H995.24ZM1001.55 650.36H1006.45V652.41H1001.55ZM1007.87 651.79H1012.76V652.41H1007.87ZM1014.18 651.38H1019.08V652.41H1014.18ZM1020.5 649.74H1025.39V652.41H1020.5ZM1026.81 651.38H1031.71V652.41H1026.81ZM1033.12 650.97H1038.03V652.41H1033.12ZM1039.44 651.38H1044.34V652.41H1039.44ZM1045.76 651.38H1050.66V652.41H1045.76ZM1052.07 652H1056.97V652.41H1052.07ZM1058.38 650.77H1063.29V652.41H1058.38ZM1064.7 651.38H1069.6V652.41H1064.7ZM1071.01 651.38H1075.91V652.41H1071.01ZM1077.33 651.38H1082.23V652.41H1077.33ZM1083.64 651.79H1088.55V652.41H1083.64ZM1089.96 651.79H1094.86V652.41H1089.96ZM1096.28 650.77H1101.18V652.41H1096.28ZM1102.59 651.38H1107.49V652.41H1102.59ZM1108.9 651.38H1113.81V652.41H1108.9ZM1115.22 651.38H1120.12V652.41H1115.22ZM1121.54 651.38H1126.44V652.41H1121.54ZM1127.85 651.38H1132.75V652.41H1127.85ZM1134.16 648.31H1139.07V652.41H1134.16ZM1140.48 641.13H1145.38V652.41H1140.48ZM1146.8 636.62H1151.7V652.41H1146.8ZM1153.11 633.95H1158.01V652.41H1153.11ZM1159.43 641.74H1164.33V652.41H1159.43ZM1165.74 637.03H1170.64V652.41H1165.74ZM1172.06 642.15H1176.96V652.41H1172.06ZM1178.37 641.74H1183.27V652.41H1178.37ZM1184.68 628.82H1189.59V652.41H1184.68ZM1191 627.38H1195.9V652.41H1191ZM1197.32 632.92H1202.22V652.41H1197.32ZM1203.63 628.82H1208.53V652.41H1203.63ZM1209.95 649.33H1212V660.21H1209.95Z"/><path fill="#14a05e" d="M306.9 642.77H311.8V644.62H306.9ZM319.53 597.03H324.43V598.05H319.53ZM325.84 619.59H330.74V620.62H325.84ZM332.16 634.97H337.06V644.21H332.16ZM338.47 628.82H343.37V634.97H338.47ZM344.79 619.18H349.69V645.44H344.79ZM351.1 617.54H356V637.44H351.1ZM357.42 640.1H362.32V641.74H357.42ZM363.73 640.1H368.63V642.56H363.73ZM370.05 634.56H374.95V641.74H370.05ZM376.37 609.33H381.26V644.21H376.37ZM382.68 641.13H387.58V644.21H382.68ZM389 639.49H393.89V643.18H389ZM395.31 637.03H400.21V639.08H395.31ZM401.62 638.05H406.52V643.18H401.62ZM407.94 643.18H412.84V648.72H407.94ZM414.25 636H419.15V637.64H414.25ZM420.57 630.26H425.47V632.92H420.57ZM426.88 644.21H431.78V645.85H426.88ZM433.2 638.05H438.1V646.26H433.2ZM439.51 645.23H444.41V647.28H439.51ZM445.83 636.41H450.73V642.77H445.83ZM452.14 629.85H457.04V636.62H452.14ZM458.46 629.23H463.36V636.62H458.46ZM464.77 642.77H469.67V645.85H464.77ZM471.09 636H475.99V644.21H471.09ZM477.4 646.26H482.3V648.72H477.4ZM483.72 642.56H488.62V644.62H483.72ZM490.03 646.26H494.93V647.69H490.03ZM496.35 640.72H501.25V642.56H496.35ZM502.66 638.05H507.56V640.1H502.66ZM508.98 642.15H513.88V647.69H508.98ZM515.29 627.79H520.19V629.44H515.29ZM521.61 611.38H526.51V613.44H521.61ZM527.92 625.33H532.82V629.44H527.92ZM534.24 616.51H539.14V632.92H534.24ZM540.55 645.23H545.45V649.74H540.55ZM546.87 550.87H551.77V643.79H546.87ZM553.18 636H558.08V643.79H553.18ZM559.5 603.18H564.4V605.23H559.5ZM565.82 596H570.72V602.56H565.82ZM572.13 622.67H577.03V631.28H572.13ZM578.44 638.05H583.34V641.54H578.44ZM584.76 644.21H589.66V646.87H584.76ZM591.08 644.21H595.98V648.92H591.08ZM597.39 645.64H602.29V646.26H597.39ZM603.7 645.23H608.6V645.85H603.7ZM610.02 640.1H614.92V644.21H610.02ZM616.34 648.31H621.24V650.36H616.34ZM622.65 644.21H627.55V645.64H622.65ZM628.96 648.31H633.86V649.33H628.96ZM635.28 647.28H640.18V648.72H635.28ZM641.6 646.26H646.5V649.33H641.6ZM647.91 645.23H652.81V646.26H647.91ZM654.23 645.23H659.12V647.28H654.23ZM660.54 640.72H665.44V643.59H660.54ZM704.75 648.31H709.64V649.74H704.75ZM711.06 646.26H715.96V649.33H711.06ZM717.38 646.26H722.27V648.92H717.38ZM723.69 646.26H728.59V648.92H723.69ZM730 647.28H734.9V649.74H730ZM736.32 647.9H741.22V649.33H736.32ZM748.95 640.1H753.85V646.87H748.95ZM755.26 643.18H760.16V644.62H755.26ZM761.58 646.67H766.48V648.72H761.58ZM767.89 647.28H772.79V648.72H767.89ZM780.53 645.23H785.43V649.74H780.53ZM786.84 649.95H791.74V650.77H786.84ZM793.15 646.26H798.05V648.92H793.15ZM805.79 637.44H810.69V639.69H805.79ZM818.41 646.26H823.31V649.33H818.41ZM824.73 646.26H829.63V648.72H824.73ZM831.04 644.82H835.94V647.9H831.04ZM837.36 647.28H842.26V649.33H837.36ZM843.67 620.62H848.57V642.77H843.67ZM849.99 608.31H854.89V648.72H849.99ZM862.62 647.28H867.52V649.33H862.62ZM868.94 646.26H873.84V648.72H868.94ZM875.25 645.64H880.15V648.92H875.25ZM881.57 629.44H886.47V646.26H881.57ZM919.46 645.23H924.36V646.87H919.46ZM938.4 638.46H943.3V640.1H938.4ZM1064.7 649.33H1069.6V650.36H1064.7ZM1172.06 639.08H1176.96V642.15H1172.06ZM1178.37 640.1H1183.27V641.74H1178.37ZM1184.68 626.77H1189.59V628.82H1184.68ZM1191 625.74H1195.9V627.38H1191ZM1197.32 630.87H1202.22V632.92H1197.32ZM1203.63 626.77H1208.53V628.82H1203.63ZM1209.95 645.23H1212V649.33H1209.95Z"/><path fill="#13c3f0" d="M303 630.26H305.48V632.92H303ZM306.9 641.13H311.8V642.77H306.9ZM313.21 623.08H318.11V629.23H313.21ZM319.53 594.97H324.43V597.03H319.53ZM325.84 617.54H330.74V619.59H325.84ZM332.16 631.9H337.06V634.97H332.16ZM338.47 611.38H343.37V628.82H338.47ZM344.79 615.49H349.69V619.18H344.79ZM351.1 615.49H356V617.54H351.1ZM357.42 634.97H362.32V640.1H357.42ZM363.73 636.62H368.63V640.1H363.73ZM370.05 630.87H374.95V634.56H370.05ZM376.37 605.85H381.26V609.33H376.37ZM382.68 637.03H387.58V641.13H382.68ZM389 634.97H393.89V639.49H389ZM395.31 633.95H400.21V637.03H395.31ZM401.62 633.95H406.52V638.05H401.62ZM407.94 639.08H412.84V643.18H407.94ZM414.25 631.9H419.15V636H414.25ZM420.57 623.69H425.47V630.26H420.57ZM426.88 638.05H431.78V644.21H426.88ZM433.2 636H438.1V638.05H433.2ZM439.51 644.21H444.41V645.23H439.51ZM445.83 633.95H450.73V636.41H445.83ZM452.14 620.21H457.04V629.85H452.14ZM464.77 640.72H469.67V642.77H464.77ZM471.09 632.92H475.99V636H471.09ZM477.4 644.21H482.3V646.26H477.4ZM483.72 631.9H488.62V633.95H483.72ZM490.03 635.59H494.93V646.26H490.03ZM502.66 637.03H507.56V638.05H502.66ZM508.98 639.08H513.88V640.1H508.98ZM515.29 625.33H520.19V627.79H515.29ZM521.61 610.36H526.51V611.38H521.61ZM527.92 623.28H532.82V625.33H527.92ZM534.24 613.44H539.14V616.51H534.24ZM540.55 643.18H545.45V645.23H540.55ZM546.87 548.21H551.77V550.87H546.87ZM553.18 634.97H558.08V636H553.18ZM559.5 602.15H564.4V603.18H559.5ZM565.82 589.85H570.72V590.87H565.82ZM572.13 620.21H577.03V622.67H572.13ZM578.44 636.41H583.34V638.05H578.44ZM584.76 642.15H589.66V644.21H584.76ZM591.08 643.18H595.98V644.21H591.08ZM597.39 643.18H602.29V644.21H597.39ZM603.7 643.18H608.6V645.23H603.7ZM610.02 638.05H614.92V640.1H610.02ZM616.34 647.28H621.24V648.31H616.34ZM622.65 641.13H627.55V644.21H622.65ZM635.28 645.85H640.18V647.28H635.28ZM641.6 645.23H646.5V646.26H641.6ZM647.91 643.79H652.81V645.23H647.91ZM654.23 643.18H659.12V645.23H654.23ZM660.54 639.08H665.44V640.72H660.54ZM666.86 646.67H671.75V648.72H666.86ZM673.17 647.28H678.07V649.33H673.17ZM679.49 645.23H684.38V647.69H679.49ZM685.8 644.21H690.7V647.28H685.8ZM692.12 647.28H697.01V648.72H692.12ZM698.43 647.69H703.33V649.74H698.43ZM717.38 644.21H722.27V646.26H717.38ZM730 646.26H734.9V647.28H730ZM736.32 646.26H741.22V647.9H736.32ZM742.63 645.85H747.53V647.9H742.63ZM748.95 638.05H753.85V640.1H748.95ZM755.26 640.1H760.16V643.18H755.26ZM761.58 645.23H766.48V646.67H761.58ZM767.89 645.64H772.79V647.28H767.89ZM774.21 646.26H779.11V648.72H774.21ZM793.15 644.21H798.05V646.26H793.15ZM799.47 646.67H804.37V650.77H799.47ZM805.79 636H810.69V637.44H805.79ZM812.1 642.15H817V645.64H812.1ZM818.41 645.64H823.31V646.26H818.41ZM824.73 645.23H829.63V646.26H824.73ZM831.04 642.15H835.94V644.82H831.04ZM837.36 645.23H842.26V647.28H837.36ZM856.31 643.18H861.21V646.26H856.31ZM862.62 645.85H867.52V647.28H862.62ZM875.25 643.18H880.15V645.64H875.25ZM887.88 645.23H892.78V647.28H887.88ZM894.2 647.28H899.1V648.92H894.2ZM906.83 643.18H911.73V645.23H906.83ZM913.14 638.67H918.04V641.13H913.14ZM925.77 628.21H930.67V630.87H925.77ZM944.72 645.85H949.62V648.31H944.72ZM963.66 649.33H968.56V651.38H963.66ZM969.98 650.36H974.88V651.79H969.98ZM976.29 650.36H981.19V651.79H976.29ZM982.61 648.31H987.5V649.95H982.61ZM988.92 649.74H993.82V651.38H988.92ZM995.24 649.95H1000.13V651.38H995.24ZM1001.55 648.92H1006.45V650.36H1001.55ZM1007.87 650.77H1012.76V651.79H1007.87ZM1014.18 649.95H1019.08V651.38H1014.18ZM1020.5 648.72H1025.39V649.74H1020.5ZM1026.81 649.74H1031.71V651.38H1026.81ZM1033.12 649.74H1038.03V650.97H1033.12ZM1039.44 649.74H1044.34V651.38H1039.44ZM1045.76 650.36H1050.66V651.38H1045.76ZM1052.07 650.36H1056.97V652H1052.07ZM1058.38 649.33H1063.29V650.77H1058.38ZM1064.7 650.36H1069.6V651.38H1064.7ZM1071.01 649.74H1075.91V651.38H1071.01ZM1077.33 648.31H1082.23V651.38H1077.33ZM1083.64 650.77H1088.55V651.79H1083.64ZM1089.96 650.36H1094.86V651.79H1089.96ZM1096.28 648.72H1101.18V650.77H1096.28ZM1102.59 649.74H1107.49V651.38H1102.59ZM1108.9 649.74H1113.81V651.38H1108.9ZM1115.22 649.74H1120.12V651.38H1115.22ZM1121.54 649.74H1126.44V651.38H1121.54ZM1127.85 649.74H1132.75V651.38H1127.85ZM1134.16 646.26H1139.07V648.31H1134.16ZM1140.48 630.46H1145.38V632.31H1140.48ZM1146.8 632.92H1151.7V633.95H1146.8ZM1153.11 630.87H1158.01V633.95H1153.11ZM1159.43 638.67H1164.33V639.49H1159.43ZM1165.74 634.97H1170.64V636H1165.74ZM1172.06 637.03H1176.96V639.08H1172.06ZM1184.68 625.13H1189.59V626.77H1184.68ZM1191 622.67H1195.9V625.74H1191ZM1209.95 639.49H1212V642.15H1209.95Z"/><path fill="#f5a016" d="M303 628.21H305.48V630.26H303ZM313.21 621.23H318.11V623.08H313.21ZM319.53 593.74H324.43V594.97H319.53ZM325.84 615.9H330.74V617.54H325.84ZM332.16 629.85H337.06V631.9H332.16ZM338.47 608.92H343.37V611.38H338.47ZM344.79 614.05H349.69V615.49H344.79ZM351.1 613.85H356V615.49H351.1ZM376.37 604.21H381.26V605.85H376.37ZM382.68 634.97H387.58V637.03H382.68ZM389 631.9H393.89V634.97H389ZM395.31 632.31H400.21V633.95H395.31ZM401.62 619.59H406.52V633.95H401.62ZM407.94 621.64H412.84V639.08H407.94ZM414.25 628.21H419.15V631.9H414.25ZM420.57 609.33H425.47V623.69H420.57ZM426.88 635.59H431.78V638.05H426.88ZM433.2 633.95H438.1V636H433.2ZM439.51 638.05H444.41V644.21H439.51ZM445.83 627.79H450.73V633.95H445.83ZM452.14 615.08H457.04V620.21H452.14ZM458.46 623.69H463.36V629.23H458.46ZM471.09 630.46H475.99V632.92H471.09ZM483.72 633.95H488.62V642.56H483.72ZM490.03 632.92H494.93V635.59H490.03ZM496.35 637.03H501.25V640.72H496.35ZM508.98 640.1H513.88V642.15H508.98ZM515.29 623.69H520.19V625.33H515.29ZM521.61 609.33H526.51V610.36H521.61ZM527.92 622.26H532.82V623.28H527.92ZM534.24 612H539.14V613.44H534.24ZM540.55 642.15H545.45V643.18H540.55ZM546.87 546.97H551.77V548.21H546.87ZM553.18 629.85H558.08V634.97H553.18ZM565.82 590.87H570.72V596H565.82ZM572.13 619.18H577.03V620.21H572.13ZM597.39 644.21H602.29V645.64H597.39ZM603.7 641.74H608.6V643.18H603.7ZM628.96 647.28H633.86V648.31H628.96ZM641.6 643.18H646.5V645.23H641.6ZM647.91 642.15H652.81V643.79H647.91ZM666.86 645.44H671.75V646.67H666.86ZM685.8 642.77H690.7V644.21H685.8ZM704.75 646.87H709.64V648.31H704.75ZM711.06 644.21H715.96V646.26H711.06ZM723.69 643.18H728.59V646.26H723.69ZM742.63 644.21H747.53V645.85H742.63ZM780.53 643.18H785.43V645.23H780.53ZM786.84 648.31H791.74V649.95H786.84ZM799.47 645.23H804.37V646.67H799.47ZM837.36 641.13H842.26V645.23H837.36ZM843.67 617.54H848.57V620.62H843.67ZM849.99 604.82H854.89V608.31H849.99ZM856.31 641.74H861.21V643.18H856.31ZM868.94 643.79H873.84V646.26H868.94ZM881.57 626.77H886.47V629.44H881.57ZM900.51 643.79H905.41V645.64H900.51ZM906.83 641.54H911.73V643.18H906.83ZM932.09 633.54H936.99V636H932.09ZM944.72 644.21H949.62V645.85H944.72ZM951.03 642.15H955.93V644.21H951.03ZM957.35 643.18H962.25V645.23H957.35ZM1140.48 632.31H1145.38V641.13H1140.48ZM1146.8 633.95H1151.7V636.62H1146.8ZM1153.11 629.44H1158.01V630.87H1153.11ZM1159.43 639.49H1164.33V641.74H1159.43ZM1165.74 636H1170.64V637.03H1165.74ZM1172.06 635.59H1176.96V637.03H1172.06ZM1178.37 637.64H1183.27V640.1H1178.37ZM1191 618.56H1195.9V622.67H1191ZM1197.32 616.51H1202.22V630.87H1197.32ZM1203.63 600.1H1208.53V626.77H1203.63ZM1209.95 642.15H1212V645.23H1209.95Z"/><path fill="#072745" d="M303 623.69H305.48V628.21H303ZM306.9 639.08H311.8V641.13H306.9ZM313.21 608.31H318.11V621.23H313.21ZM325.84 611.79H330.74V615.9H325.84ZM332.16 628.21H337.06V629.85H332.16ZM344.79 611.79H349.69V614.05H344.79ZM351.1 609.74H356V613.85H351.1ZM357.42 633.54H362.32V634.97H357.42ZM363.73 633.95H368.63V636.62H363.73ZM370.05 628.82H374.95V630.87H370.05ZM376.37 601.54H381.26V604.21H376.37ZM382.68 626.77H387.58V634.97H382.68ZM389 623.08H393.89V631.9H389ZM395.31 630.26H400.21V632.31H395.31ZM401.62 617.54H406.52V619.59H401.62ZM407.94 618.15H412.84V621.64H407.94ZM420.57 605.23H425.47V609.33H420.57ZM426.88 631.28H431.78V635.59H426.88ZM433.2 632.51H438.1V633.95H433.2ZM439.51 635.18H444.41V638.05H439.51ZM445.83 625.74H450.73V627.79H445.83ZM452.14 609.74H457.04V615.08H452.14ZM458.46 619.59H463.36V623.69H458.46ZM464.77 634.56H469.67V640.72H464.77ZM477.4 641.13H482.3V644.21H477.4ZM490.03 629.85H494.93V632.92H490.03ZM496.35 633.95H501.25V637.03H496.35ZM502.66 633.95H507.56V637.03H502.66ZM515.29 621.64H520.19V623.69H515.29ZM521.61 606.87H526.51V609.33H521.61ZM527.92 620.62H532.82V622.26H527.92ZM534.24 608.31H539.14V612H534.24ZM540.55 637.64H545.45V642.15H540.55ZM546.87 545.74H551.77V546.97H546.87ZM553.18 627.18H558.08V629.85H553.18ZM559.5 600.72H564.4V602.15H559.5ZM565.82 587.79H570.72V589.85H565.82ZM572.13 616.51H577.03V619.18H572.13ZM578.44 634.97H583.34V636.41H578.44ZM584.76 637.64H589.66V642.15H584.76ZM591.08 640.1H595.98V643.18H591.08ZM603.7 639.08H608.6V641.74H603.7ZM610.02 635.59H614.92V638.05H610.02ZM616.34 645.23H621.24V647.28H616.34ZM622.65 637.03H627.55V641.13H622.65ZM628.96 645.64H633.86V647.28H628.96ZM635.28 645.23H640.18V645.85H635.28ZM647.91 640.51H652.81V642.15H647.91ZM654.23 639.69H659.12V643.18H654.23ZM660.54 637.03H665.44V639.08H660.54ZM666.86 641.74H671.75V645.44H666.86ZM673.17 646.26H678.07V647.28H673.17ZM679.49 642.15H684.38V645.23H679.49ZM685.8 641.13H690.7V642.77H685.8ZM692.12 645.23H697.01V647.28H692.12ZM698.43 645.23H703.33V647.69H698.43ZM704.75 645.23H709.64V646.87H704.75ZM711.06 640.1H715.96V644.21H711.06ZM723.69 641.13H728.59V643.18H723.69ZM730 645.23H734.9V646.26H730ZM736.32 645.23H741.22V646.26H736.32ZM742.63 640.1H747.53V644.21H742.63ZM761.58 643.18H766.48V645.23H761.58ZM767.89 642.56H772.79V645.64H767.89ZM774.21 643.18H779.11V646.26H774.21ZM780.53 640.51H785.43V643.18H780.53ZM786.84 646.26H791.74V648.31H786.84ZM799.47 641.13H804.37V645.23H799.47ZM812.1 639.08H817V642.15H812.1ZM818.41 644.21H823.31V645.64H818.41ZM824.73 643.59H829.63V645.23H824.73ZM831.04 637.03H835.94V642.15H831.04ZM837.36 633.54H842.26V641.13H837.36ZM843.67 615.9H848.57V617.54H843.67ZM849.99 588.82H854.89V604.82H849.99ZM856.31 640.1H861.21V641.74H856.31ZM862.62 642.15H867.52V645.85H862.62ZM868.94 641.13H873.84V643.79H868.94ZM875.25 642.15H880.15V643.18H875.25ZM881.57 620.62H886.47V626.77H881.57ZM887.88 638.05H892.78V645.23H887.88ZM894.2 645.85H899.1V647.28H894.2ZM900.51 641.74H905.41V643.79H900.51ZM906.83 637.64H911.73V641.54H906.83ZM913.14 636H918.04V638.67H913.14ZM919.46 643.18H924.36V645.23H919.46ZM925.77 625.13H930.67V628.21H925.77ZM932.09 629.85H936.99V633.54H932.09ZM938.4 630.87H943.3V638.46H938.4ZM944.72 641.13H949.62V644.21H944.72ZM951.03 640.51H955.93V642.15H951.03ZM957.35 637.03H962.25V643.18H957.35ZM963.66 648.31H968.56V649.33H963.66ZM969.98 649.33H974.88V650.36H969.98ZM976.29 649.95H981.19V650.36H976.29ZM982.61 645.23H987.5V648.31H982.61ZM988.92 649.33H993.82V649.74H988.92ZM995.24 647.9H1000.13V649.95H995.24ZM1001.55 646.87H1006.45V648.92H1001.55ZM1007.87 650.36H1012.76V650.77H1007.87ZM1014.18 649.33H1019.08V649.95H1014.18ZM1026.81 648.92H1031.71V649.74H1026.81ZM1033.12 646.26H1038.03V649.74H1033.12ZM1039.44 648.72H1044.34V649.74H1039.44ZM1045.76 649.33H1050.66V650.36H1045.76ZM1052.07 649.74H1056.97V650.36H1052.07ZM1058.38 646.26H1063.29V649.33H1058.38ZM1071.01 647.28H1075.91V649.74H1071.01ZM1077.33 645.23H1082.23V648.31H1077.33ZM1083.64 650.36H1088.55V650.77H1083.64ZM1096.28 643.79H1101.18V648.72H1096.28ZM1102.59 648.31H1107.49V649.74H1102.59ZM1108.9 648.92H1113.81V649.74H1108.9ZM1115.22 648.92H1120.12V649.74H1115.22ZM1121.54 648.72H1126.44V649.74H1121.54ZM1127.85 649.33H1132.75V649.74H1127.85ZM1134.16 644.62H1139.07V646.26H1134.16ZM1140.48 629.44H1145.38V630.46H1140.48ZM1146.8 625.74H1151.7V632.92H1146.8ZM1153.11 618.77H1158.01V629.44H1153.11ZM1159.43 637.64H1164.33V638.67H1159.43ZM1165.74 633.95H1170.64V634.97H1165.74ZM1178.37 635.38H1183.27V637.64H1178.37ZM1184.68 623.28H1189.59V625.13H1184.68ZM1191 611.38H1195.9V618.56H1191ZM1197.32 613.03H1202.22V616.51H1197.32ZM1203.63 598.46H1208.53V600.1H1203.63Z"/><path fill="#2e9a8a" d="M313.21 607.28H318.11V608.31H313.21ZM319.53 591.49H324.43V593.74H319.53ZM325.84 610.36H330.74V611.79H325.84ZM338.47 605.85H343.37V608.92H338.47ZM376.37 599.69H381.26V601.54H376.37ZM414.25 624.72H419.15V628.21H414.25ZM452.14 608.31H457.04V609.74H452.14ZM471.09 627.18H475.99V630.46H471.09ZM477.4 637.03H482.3V641.13H477.4ZM483.72 630.87H488.62V631.9H483.72ZM490.03 627.79H494.93V629.85H490.03ZM496.35 631.9H501.25V633.95H496.35ZM508.98 635.59H513.88V639.08H508.98ZM515.29 620.62H520.19V621.64H515.29ZM521.61 605.23H526.51V606.87H521.61ZM527.92 617.95H532.82V620.62H527.92ZM534.24 606.26H539.14V608.31H534.24ZM540.55 636H545.45V637.64H540.55ZM546.87 544.72H551.77V545.74H546.87ZM553.18 625.13H558.08V627.18H553.18ZM565.82 586.36H570.72V587.79H565.82ZM603.7 637.44H608.6V639.08H603.7ZM641.6 640.1H646.5V643.18H641.6ZM717.38 641.54H722.27V644.21H717.38ZM748.95 637.03H753.85V638.05H748.95ZM755.26 638.05H760.16V640.1H755.26ZM793.15 641.54H798.05V644.21H793.15ZM805.79 634.97H810.69V636H805.79ZM831.04 636H835.94V637.03H831.04ZM868.94 639.08H873.84V641.13H868.94ZM906.83 636.41H911.73V637.64H906.83ZM944.72 639.08H949.62V641.13H944.72ZM982.61 644.21H987.5V645.23H982.61ZM1020.5 646.26H1025.39V648.72H1020.5ZM1058.38 645.23H1063.29V646.26H1058.38ZM1096.28 642.15H1101.18V643.79H1096.28ZM1134.16 644.21H1139.07V644.62H1134.16ZM1172.06 630.87H1176.96V635.59H1172.06Z"/>
<path d="M294.5 668H1212" stroke="#5b5f63" stroke-width="1"/>
<g class="tick"><text x="292" y="672.2" text-anchor="end">0</text><text x="292" y="654.6" text-anchor="end">200</text><text x="292" y="637" text-anchor="end">400</text><text x="292" y="619.4" text-anchor="end">600</text><text x="292" y="601.8" text-anchor="end">800</text><text x="292" y="584.2" text-anchor="end">1,000</text><text x="292" y="566.6" text-anchor="end">1,200</text><text x="292" y="549" text-anchor="end">1,400</text><text x="292" y="531.4" text-anchor="end">1,600</text><text x="337.3" y="689.5" text-anchor="middle">17:00</text><text x="375.21" y="689.5" text-anchor="middle">18:00</text><text x="413.12" y="689.5" text-anchor="middle">19:00</text><text x="451.03" y="689.5" text-anchor="middle">20:00</text><text x="488.94" y="689.5" text-anchor="middle">21:00</text><text x="526.85" y="689.5" text-anchor="middle">22:00</text><text x="564.76" y="689.5" text-anchor="middle">23:00</text><text x="602.67" y="689.5" text-anchor="middle">00:00</text><text x="640.58" y="689.5" text-anchor="middle">01:00</text><text x="678.49" y="689.5" text-anchor="middle">02:00</text><text x="716.4" y="689.5" text-anchor="middle">03:00</text><text x="754.31" y="689.5" text-anchor="middle">04:00</text><text x="792.22" y="689.5" text-anchor="middle">05:00</text><text x="830.13" y="689.5" text-anchor="middle">06:00</text><text x="868.04" y="689.5" text-anchor="middle">07:00</text><text x="905.95" y="689.5" text-anchor="middle">08:00</text><text x="943.86" y="689.5" text-anchor="middle">09:00</text><text x="981.77" y="689.5" text-anchor="middle">10:00</text><text x="1019.68" y="689.5" text-anchor="middle">11:00</text><text x="1057.59" y="689.5" text-anchor="middle">12:00</text><text x="1095.5" y="689.5" text-anchor="middle">13:00</text><text x="1133.41" y="689.5" text-anchor="middle">14:00</text><text x="1171.32" y="689.5" text-anchor="middle">15:00</text><text x="1208.5" y="689.5" text-anchor="middle">16:00</text></g>
</svg>

</body></html>
